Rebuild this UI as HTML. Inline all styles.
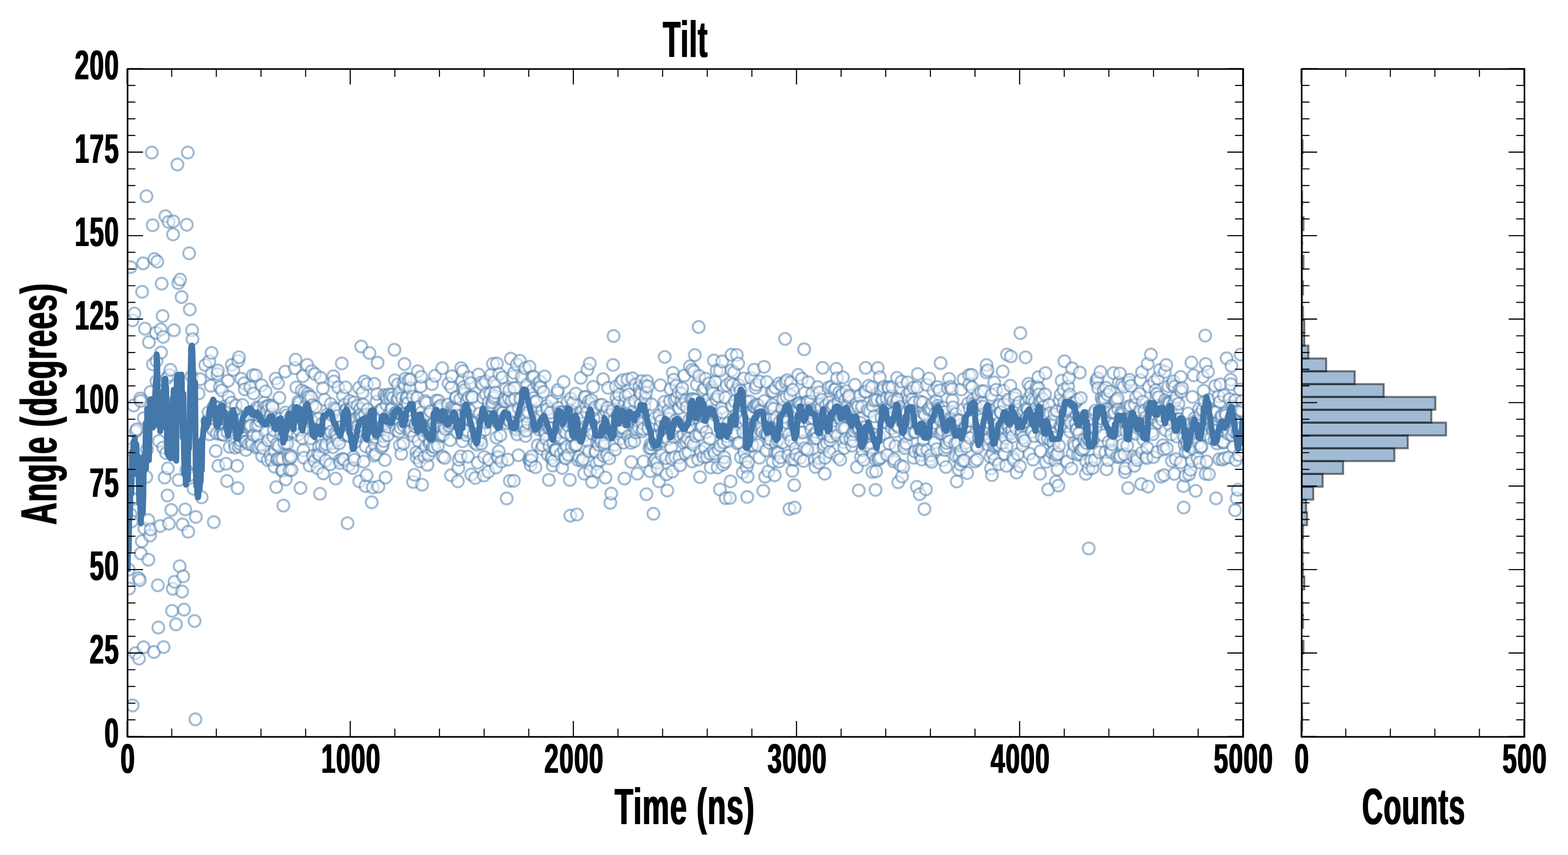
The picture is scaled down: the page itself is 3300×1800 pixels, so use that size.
<!DOCTYPE html>
<html lang="en"><head><meta charset="utf-8"><title>Tilt</title>
<style>
html,body{margin:0;padding:0;background:#fff}
body{width:3300px;height:1800px;overflow:hidden}
svg{display:block}
text{font-family:"Liberation Sans",sans-serif;font-weight:bold;fill:#000}
</style></head><body>
<svg width="3300" height="1800" viewBox="0 0 3300 1800">
<rect width="3300" height="1800" fill="#fff"/>
<defs><clipPath id="cm"><rect x="268.5" y="145.3" width="2348" height="1406"/></clipPath><clipPath id="ch"><rect x="2739.5" y="145.3" width="468.9" height="1406"/></clipPath><filter id="bt" x="-20%" y="-20%" width="140%" height="140%"><feMorphology operator="dilate" radius="1.0 0"/></filter><filter id="bl" x="-20%" y="-20%" width="140%" height="140%"><feMorphology operator="dilate" radius="1.7 0"/></filter></defs>
<g clip-path="url(#cm)" fill="#fff" fill-opacity="0.5" stroke="#4477AA" stroke-opacity="0.5" stroke-width="4.17">
<circle cx="270.7" cy="1199.1" r="12.5"/><circle cx="271.7" cy="1239" r="12.5"/><circle cx="272.8" cy="929.5" r="12.5"/><circle cx="274.9" cy="562.3" r="12.5"/><circle cx="274.9" cy="946.5" r="12.5"/><circle cx="274.9" cy="1082.7" r="12.5"/>
<circle cx="277.1" cy="1097.7" r="12.5"/><circle cx="278.8" cy="674.5" r="12.5"/><circle cx="279.2" cy="1050.7" r="12.5"/><circle cx="279.2" cy="1485.1" r="12.5"/><circle cx="281.4" cy="853.7" r="12.5"/><circle cx="283.1" cy="660" r="12.5"/>
<circle cx="285.2" cy="1375.2" r="12.5"/><circle cx="285.6" cy="908.1" r="12.5"/><circle cx="287.8" cy="903.8" r="12.5"/><circle cx="292" cy="1217.2" r="12.5"/><circle cx="292.5" cy="1386.5" r="12.5"/><circle cx="294.2" cy="1221.5" r="12.5"/>
<circle cx="295.2" cy="838.9" r="12.5"/><circle cx="295.7" cy="844.1" r="12.5"/><circle cx="296.3" cy="1165.1" r="12.5"/><circle cx="298.4" cy="1139.5" r="12.5"/><circle cx="299.1" cy="614.3" r="12.5"/><circle cx="301.2" cy="554.4" r="12.5"/>
<circle cx="302.1" cy="1362.6" r="12.5"/><circle cx="302.7" cy="880.4" r="12.5"/><circle cx="303.8" cy="1112.6" r="12.5"/><circle cx="305.1" cy="692" r="12.5"/><circle cx="308" cy="1004.2" r="12.5"/><circle cx="308.3" cy="413.2" r="12.5"/>
<circle cx="309.1" cy="946.5" r="12.5"/><circle cx="311.9" cy="1094.9" r="12.5"/><circle cx="312.3" cy="1178.4" r="12.5"/><circle cx="313.4" cy="720.4" r="12.5"/><circle cx="315.5" cy="1127.5" r="12.5"/><circle cx="316.6" cy="825.1" r="12.5"/>
<circle cx="317.2" cy="1114.7" r="12.5"/><circle cx="319.4" cy="321.2" r="12.5"/><circle cx="321.3" cy="474.1" r="12.5"/><circle cx="321.9" cy="767" r="12.5"/><circle cx="324.1" cy="1372.6" r="12.5"/><circle cx="324.9" cy="545.4" r="12.5"/>
<circle cx="328.3" cy="700.6" r="12.5"/><circle cx="329.4" cy="759.9" r="12.5"/><circle cx="329.4" cy="802.6" r="12.5"/><circle cx="331.1" cy="550.7" r="12.5"/><circle cx="332.2" cy="1232.2" r="12.5"/><circle cx="333.2" cy="1321.2" r="12.5"/>
<circle cx="334.7" cy="928.4" r="12.5"/><circle cx="337.3" cy="1107.3" r="12.5"/><circle cx="338.4" cy="693.7" r="12.5"/><circle cx="339" cy="742.2" r="12.5"/><circle cx="340.3" cy="597.2" r="12.5"/><circle cx="342.2" cy="665.3" r="12.5"/>
<circle cx="343.3" cy="942.3" r="12.5"/><circle cx="343.5" cy="709.3" r="12.5"/><circle cx="344.3" cy="1362.3" r="12.5"/><circle cx="346.5" cy="1005.3" r="12.5"/><circle cx="348.2" cy="455.1" r="12.5"/><circle cx="349.7" cy="954" r="12.5"/>
<circle cx="350.7" cy="796.2" r="12.5"/><circle cx="352.5" cy="1043.1" r="12.5"/><circle cx="353.3" cy="986" r="12.5"/><circle cx="354.8" cy="467.3" r="12.5"/><circle cx="355.4" cy="1102.3" r="12.5"/><circle cx="356.1" cy="789.8" r="12.5"/>
<circle cx="358.6" cy="778.7" r="12.5"/><circle cx="360.4" cy="1073.6" r="12.5"/><circle cx="362.1" cy="1286" r="12.5"/><circle cx="363.6" cy="1239.6" r="12.5"/><circle cx="364.2" cy="493.5" r="12.5"/><circle cx="364.8" cy="466.2" r="12.5"/>
<circle cx="366.1" cy="695.2" r="12.5"/><circle cx="367.4" cy="1224.9" r="12.5"/><circle cx="370.4" cy="1314.4" r="12.5"/><circle cx="373.4" cy="346.4" r="12.5"/><circle cx="375.3" cy="595.9" r="12.5"/><circle cx="375.9" cy="1010.6" r="12.5"/>
<circle cx="378.1" cy="1192" r="12.5"/><circle cx="379.1" cy="588.7" r="12.5"/><circle cx="382.1" cy="625.4" r="12.5"/><circle cx="383.2" cy="1245.4" r="12.5"/><circle cx="384.3" cy="1104.1" r="12.5"/><circle cx="385.6" cy="1213.4" r="12.5"/>
<circle cx="387.3" cy="1283.4" r="12.5"/><circle cx="389.8" cy="1072.5" r="12.5"/><circle cx="392.4" cy="989.3" r="12.5"/><circle cx="393.2" cy="473.2" r="12.5"/><circle cx="395.2" cy="321.2" r="12.5"/><circle cx="396.2" cy="1119.4" r="12.5"/>
<circle cx="398.1" cy="533.2" r="12.5"/><circle cx="398.8" cy="999.9" r="12.5"/><circle cx="399.4" cy="651.5" r="12.5"/><circle cx="403.1" cy="792" r="12.5"/><circle cx="404.3" cy="695.2" r="12.5"/><circle cx="405.2" cy="714" r="12.5"/>
<circle cx="407.3" cy="1028.8" r="12.5"/><circle cx="409.5" cy="1307.3" r="12.5"/><circle cx="411.2" cy="1514.4" r="12.5"/><circle cx="412.2" cy="1088.3" r="12.5"/><circle cx="418" cy="828.3" r="12.5"/><circle cx="421.2" cy="798.4" r="12.5"/>
<circle cx="424.4" cy="1046.9" r="12.5"/><circle cx="431.9" cy="768.5" r="12.5"/><circle cx="436.5" cy="886.4" r="12.5"/><circle cx="437.6" cy="887.6" r="12.5"/><circle cx="438.8" cy="868" r="12.5"/><circle cx="440.4" cy="760.6" r="12.5"/>
<circle cx="441.2" cy="914.4" r="12.5"/><circle cx="442.3" cy="897" r="12.5"/><circle cx="443.6" cy="812.2" r="12.5"/><circle cx="445.3" cy="742.8" r="12.5"/><circle cx="445.8" cy="785.6" r="12.5"/><circle cx="447" cy="871" r="12.5"/>
<circle cx="448.2" cy="904.8" r="12.5"/><circle cx="449.4" cy="856.4" r="12.5"/><circle cx="450" cy="1099.1" r="12.5"/><circle cx="451.7" cy="856.4" r="12.5"/><circle cx="452.9" cy="865.7" r="12.5"/><circle cx="454.1" cy="949.7" r="12.5"/>
<circle cx="455.3" cy="856.8" r="12.5"/><circle cx="456.4" cy="912.7" r="12.5"/><circle cx="457.5" cy="787.7" r="12.5"/><circle cx="458.6" cy="780.2" r="12.5"/><circle cx="459.6" cy="980.7" r="12.5"/><circle cx="461.1" cy="859" r="12.5"/>
<circle cx="462.8" cy="815.4" r="12.5"/><circle cx="463.5" cy="913.8" r="12.5"/><circle cx="464.7" cy="877.7" r="12.5"/><circle cx="465.8" cy="886.4" r="12.5"/><circle cx="467.1" cy="821.9" r="12.5"/><circle cx="468.2" cy="904.7" r="12.5"/>
<circle cx="469.4" cy="914.4" r="12.5"/><circle cx="470.5" cy="915.4" r="12.5"/><circle cx="471.7" cy="862.1" r="12.5"/><circle cx="472.9" cy="859.7" r="12.5"/><circle cx="474.1" cy="854.9" r="12.5"/><circle cx="475.7" cy="976.4" r="12.5"/>
<circle cx="476.4" cy="883.1" r="12.5"/><circle cx="477.8" cy="1012.7" r="12.5"/><circle cx="478.8" cy="909.7" r="12.5"/><circle cx="479.9" cy="801.6" r="12.5"/><circle cx="481" cy="835.7" r="12.5"/><circle cx="482.3" cy="899.4" r="12.5"/>
<circle cx="483.4" cy="940.8" r="12.5"/><circle cx="484.6" cy="891.3" r="12.5"/><circle cx="485.8" cy="860" r="12.5"/><circle cx="487" cy="847.7" r="12.5"/><circle cx="488" cy="768" r="12.5"/><circle cx="489.3" cy="892.6" r="12.5"/>
<circle cx="490.5" cy="890.7" r="12.5"/><circle cx="491.2" cy="778.7" r="12.5"/><circle cx="492.8" cy="873.1" r="12.5"/><circle cx="494" cy="934.6" r="12.5"/><circle cx="495.2" cy="942.4" r="12.5"/><circle cx="496.4" cy="853.6" r="12.5"/>
<circle cx="497.5" cy="870.6" r="12.5"/><circle cx="499.1" cy="980.7" r="12.5"/><circle cx="500.2" cy="1027.7" r="12.5"/><circle cx="501.3" cy="759.9" r="12.5"/><circle cx="502.2" cy="940" r="12.5"/><circle cx="503" cy="752" r="12.5"/>
<circle cx="504.6" cy="911.3" r="12.5"/><circle cx="505.8" cy="934.7" r="12.5"/><circle cx="506.9" cy="927.9" r="12.5"/><circle cx="507.7" cy="797.3" r="12.5"/><circle cx="509.3" cy="918.7" r="12.5"/><circle cx="510.5" cy="852.7" r="12.5"/>
<circle cx="511.6" cy="881.6" r="12.5"/><circle cx="512.8" cy="878.8" r="12.5"/><circle cx="514.1" cy="806.9" r="12.5"/><circle cx="515.2" cy="819.7" r="12.5"/><circle cx="516.3" cy="929.6" r="12.5"/><circle cx="517.5" cy="947.3" r="12.5"/>
<circle cx="518.7" cy="930.2" r="12.5"/><circle cx="519.9" cy="899" r="12.5"/><circle cx="521" cy="873.8" r="12.5"/><circle cx="522.2" cy="891.7" r="12.5"/><circle cx="523.4" cy="934.8" r="12.5"/><circle cx="524.6" cy="876.9" r="12.5"/>
<circle cx="525.7" cy="896.9" r="12.5"/><circle cx="526.9" cy="815.4" r="12.5"/><circle cx="528.1" cy="896.2" r="12.5"/><circle cx="529.3" cy="929.9" r="12.5"/><circle cx="530.4" cy="936.1" r="12.5"/><circle cx="532.2" cy="789.8" r="12.5"/>
<circle cx="533.3" cy="828.3" r="12.5"/><circle cx="534" cy="916.1" r="12.5"/><circle cx="535.1" cy="865.2" r="12.5"/><circle cx="536.3" cy="866.5" r="12.5"/><circle cx="538.1" cy="790.2" r="12.5"/><circle cx="538.7" cy="896.8" r="12.5"/>
<circle cx="539.8" cy="942.5" r="12.5"/><circle cx="541" cy="857.3" r="12.5"/><circle cx="542.2" cy="918" r="12.5"/><circle cx="543.4" cy="895.4" r="12.5"/><circle cx="544.5" cy="941.4" r="12.5"/><circle cx="545.7" cy="858.6" r="12.5"/>
<circle cx="546.9" cy="885.8" r="12.5"/><circle cx="548.1" cy="876.8" r="12.5"/><circle cx="549.2" cy="936.9" r="12.5"/><circle cx="550.4" cy="811.2" r="12.5"/><circle cx="551.7" cy="960.2" r="12.5"/><circle cx="552.8" cy="871.8" r="12.5"/>
<circle cx="553.9" cy="943.7" r="12.5"/><circle cx="555.1" cy="859.3" r="12.5"/><circle cx="556.3" cy="847.4" r="12.5"/><circle cx="557.4" cy="878.6" r="12.5"/><circle cx="558.9" cy="824" r="12.5"/><circle cx="559.8" cy="909.2" r="12.5"/>
<circle cx="561" cy="855.4" r="12.5"/><circle cx="562.1" cy="865.5" r="12.5"/><circle cx="563.3" cy="968.6" r="12.5"/><circle cx="564.5" cy="927.1" r="12.5"/><circle cx="565.7" cy="854" r="12.5"/><circle cx="566.8" cy="884.2" r="12.5"/>
<circle cx="568" cy="878.1" r="12.5"/><circle cx="569.2" cy="957.7" r="12.5"/><circle cx="570.4" cy="872.3" r="12.5"/><circle cx="571.1" cy="968" r="12.5"/><circle cx="572.7" cy="853.4" r="12.5"/><circle cx="573.9" cy="856.9" r="12.5"/>
<circle cx="575.1" cy="919.6" r="12.5"/><circle cx="576.2" cy="905.5" r="12.5"/><circle cx="577.9" cy="982.6" r="12.5"/><circle cx="578.6" cy="949.6" r="12.5"/><circle cx="580.2" cy="797" r="12.5"/><circle cx="581.4" cy="1025.5" r="12.5"/>
<circle cx="582.1" cy="935.5" r="12.5"/><circle cx="583.3" cy="967.6" r="12.5"/><circle cx="584.5" cy="965.6" r="12.5"/><circle cx="585.1" cy="806.7" r="12.5"/><circle cx="586.8" cy="938.7" r="12.5"/><circle cx="588" cy="837.4" r="12.5"/>
<circle cx="588.6" cy="967" r="12.5"/><circle cx="590.3" cy="880.9" r="12.5"/><circle cx="591.5" cy="914.8" r="12.5"/><circle cx="593.4" cy="991.3" r="12.5"/><circle cx="594.4" cy="966.1" r="12.5"/><circle cx="595" cy="990.3" r="12.5"/>
<circle cx="596.4" cy="1064.4" r="12.5"/><circle cx="597.4" cy="917.7" r="12.5"/><circle cx="598.6" cy="933.3" r="12.5"/><circle cx="600.2" cy="782.4" r="12.5"/><circle cx="600.9" cy="868.5" r="12.5"/><circle cx="601.6" cy="1009.4" r="12.5"/>
<circle cx="603.3" cy="874.6" r="12.5"/><circle cx="604.4" cy="933.7" r="12.5"/><circle cx="605.6" cy="914.2" r="12.5"/><circle cx="606.8" cy="958.8" r="12.5"/><circle cx="608" cy="966.7" r="12.5"/><circle cx="609.1" cy="989.7" r="12.5"/>
<circle cx="610.3" cy="882.3" r="12.5"/><circle cx="611.9" cy="958.9" r="12.5"/><circle cx="612.7" cy="962.6" r="12.5"/><circle cx="613.5" cy="989.4" r="12.5"/><circle cx="615" cy="909.3" r="12.5"/><circle cx="616.2" cy="908.4" r="12.5"/>
<circle cx="617.4" cy="874.7" r="12.5"/><circle cx="618.5" cy="895.4" r="12.5"/><circle cx="619.7" cy="864" r="12.5"/><circle cx="620.6" cy="775.2" r="12.5"/><circle cx="622.2" cy="757.2" r="12.5"/><circle cx="623.6" cy="815.5" r="12.5"/>
<circle cx="624.4" cy="877.1" r="12.5"/><circle cx="625.6" cy="858.3" r="12.5"/><circle cx="626.7" cy="915.5" r="12.5"/><circle cx="627.9" cy="845.4" r="12.5"/><circle cx="629.1" cy="904.7" r="12.5"/><circle cx="630.3" cy="848.5" r="12.5"/>
<circle cx="631.4" cy="874.2" r="12.5"/><circle cx="632.3" cy="1027.5" r="12.5"/><circle cx="633.8" cy="874.9" r="12.5"/><circle cx="635" cy="822" r="12.5"/><circle cx="636.1" cy="922.4" r="12.5"/><circle cx="637.6" cy="791.8" r="12.5"/>
<circle cx="638.5" cy="947.9" r="12.5"/><circle cx="639.7" cy="963.7" r="12.5"/><circle cx="640.8" cy="825.6" r="12.5"/><circle cx="642" cy="856.3" r="12.5"/><circle cx="643.2" cy="887.2" r="12.5"/><circle cx="644.4" cy="836.4" r="12.5"/>
<circle cx="645.5" cy="878.7" r="12.5"/><circle cx="646.5" cy="768.2" r="12.5"/><circle cx="647.9" cy="829.1" r="12.5"/><circle cx="649.1" cy="843" r="12.5"/><circle cx="650.2" cy="834.9" r="12.5"/><circle cx="651.7" cy="980.3" r="12.5"/>
<circle cx="652.6" cy="880.2" r="12.5"/><circle cx="653.8" cy="922.9" r="12.5"/><circle cx="654.9" cy="835.8" r="12.5"/><circle cx="656.1" cy="781.3" r="12.5"/><circle cx="657.3" cy="853.1" r="12.5"/><circle cx="658.5" cy="959.6" r="12.5"/>
<circle cx="659.6" cy="889.3" r="12.5"/><circle cx="660.8" cy="909.3" r="12.5"/><circle cx="662" cy="970.3" r="12.5"/><circle cx="662.8" cy="787.3" r="12.5"/><circle cx="664.3" cy="856.7" r="12.5"/><circle cx="665.5" cy="912.4" r="12.5"/>
<circle cx="666.7" cy="904.4" r="12.5"/><circle cx="668.3" cy="985.5" r="12.5"/><circle cx="669" cy="955.3" r="12.5"/><circle cx="670.2" cy="881.8" r="12.5"/><circle cx="671.4" cy="940" r="12.5"/><circle cx="672.6" cy="957.8" r="12.5"/>
<circle cx="673.5" cy="1039.5" r="12.5"/><circle cx="674.7" cy="795.4" r="12.5"/><circle cx="676.1" cy="921.4" r="12.5"/><circle cx="677.3" cy="938" r="12.5"/><circle cx="678.4" cy="891.9" r="12.5"/><circle cx="679.6" cy="817.5" r="12.5"/>
<circle cx="680.3" cy="996.6" r="12.5"/><circle cx="682" cy="907.7" r="12.5"/><circle cx="683.1" cy="841.5" r="12.5"/><circle cx="684.3" cy="941.9" r="12.5"/><circle cx="685.5" cy="969.9" r="12.5"/><circle cx="686.7" cy="935.4" r="12.5"/>
<circle cx="687.8" cy="906.3" r="12.5"/><circle cx="689" cy="873.2" r="12.5"/><circle cx="690.2" cy="889.3" r="12.5"/><circle cx="691.4" cy="914.3" r="12.5"/><circle cx="692.5" cy="892" r="12.5"/><circle cx="693.7" cy="891.9" r="12.5"/>
<circle cx="694.9" cy="977.7" r="12.5"/><circle cx="696" cy="850.5" r="12.5"/><circle cx="697.2" cy="909" r="12.5"/><circle cx="698.4" cy="873.6" r="12.5"/><circle cx="699.6" cy="933.1" r="12.5"/><circle cx="700.7" cy="941.5" r="12.5"/>
<circle cx="701.7" cy="792.1" r="12.5"/><circle cx="702.8" cy="803.2" r="12.5"/><circle cx="704.3" cy="859.4" r="12.5"/><circle cx="705.4" cy="912.5" r="12.5"/><circle cx="706.5" cy="1007.5" r="12.5"/><circle cx="707.8" cy="862" r="12.5"/>
<circle cx="709" cy="916.2" r="12.5"/><circle cx="710.1" cy="925.9" r="12.5"/><circle cx="711.3" cy="875.5" r="12.5"/><circle cx="712" cy="815.5" r="12.5"/><circle cx="713.7" cy="933.2" r="12.5"/><circle cx="714.8" cy="969" r="12.5"/>
<circle cx="715.9" cy="974.8" r="12.5"/><circle cx="717.2" cy="906" r="12.5"/><circle cx="718.4" cy="899" r="12.5"/><circle cx="719.4" cy="765.1" r="12.5"/><circle cx="720.7" cy="965.9" r="12.5"/><circle cx="721.9" cy="833.1" r="12.5"/>
<circle cx="723.1" cy="915" r="12.5"/><circle cx="724.2" cy="967.3" r="12.5"/><circle cx="725.4" cy="851.8" r="12.5"/><circle cx="726.6" cy="865.1" r="12.5"/><circle cx="727.5" cy="815.5" r="12.5"/><circle cx="728.9" cy="875.3" r="12.5"/>
<circle cx="730.1" cy="860.6" r="12.5"/><circle cx="731.4" cy="1101.5" r="12.5"/><circle cx="732.5" cy="917.4" r="12.5"/><circle cx="733.6" cy="916.6" r="12.5"/><circle cx="734.3" cy="979.7" r="12.5"/><circle cx="736" cy="844.2" r="12.5"/>
<circle cx="737.2" cy="860" r="12.5"/><circle cx="738.3" cy="863.4" r="12.5"/><circle cx="739.5" cy="898.5" r="12.5"/><circle cx="740.7" cy="858.4" r="12.5"/><circle cx="742.1" cy="985.5" r="12.5"/><circle cx="743" cy="909" r="12.5"/>
<circle cx="744.2" cy="962.2" r="12.5"/><circle cx="745.4" cy="847.4" r="12.5"/><circle cx="746" cy="968" r="12.5"/><circle cx="747.7" cy="930.2" r="12.5"/><circle cx="748.9" cy="919.7" r="12.5"/><circle cx="750.1" cy="880.9" r="12.5"/>
<circle cx="751.3" cy="908.4" r="12.5"/><circle cx="752.4" cy="854.2" r="12.5"/><circle cx="753.6" cy="896.7" r="12.5"/><circle cx="755.7" cy="816.4" r="12.5"/><circle cx="756.1" cy="1013.3" r="12.5"/><circle cx="757.1" cy="877.7" r="12.5"/>
<circle cx="758.3" cy="860.8" r="12.5"/><circle cx="759.5" cy="872.7" r="12.5"/><circle cx="760.2" cy="729.4" r="12.5"/><circle cx="761.8" cy="879.1" r="12.5"/><circle cx="763" cy="826.5" r="12.5"/><circle cx="764.2" cy="851.9" r="12.5"/>
<circle cx="765.4" cy="971.9" r="12.5"/><circle cx="767" cy="802.8" r="12.5"/><circle cx="767.7" cy="873.7" r="12.5"/><circle cx="769.3" cy="1023.4" r="12.5"/><circle cx="770" cy="939.7" r="12.5"/><circle cx="771.6" cy="1000.5" r="12.5"/>
<circle cx="772.2" cy="808.7" r="12.5"/><circle cx="773.6" cy="862.2" r="12.5"/><circle cx="774.7" cy="915.3" r="12.5"/><circle cx="775.9" cy="913.3" r="12.5"/><circle cx="777.5" cy="743.2" r="12.5"/><circle cx="778.3" cy="920" r="12.5"/>
<circle cx="779.4" cy="892" r="12.5"/><circle cx="780.6" cy="877.9" r="12.5"/><circle cx="782.3" cy="1057.4" r="12.5"/><circle cx="783" cy="948.7" r="12.5"/><circle cx="784.5" cy="1026.3" r="12.5"/><circle cx="785.3" cy="884.4" r="12.5"/>
<circle cx="787.8" cy="808.1" r="12.5"/><circle cx="787.8" cy="959.3" r="12.5"/><circle cx="788.8" cy="936.1" r="12.5"/><circle cx="790" cy="920.7" r="12.5"/><circle cx="791.2" cy="956" r="12.5"/><circle cx="792.4" cy="845.7" r="12.5"/>
<circle cx="793.5" cy="829.5" r="12.5"/><circle cx="794.6" cy="763.6" r="12.5"/><circle cx="795.9" cy="913" r="12.5"/><circle cx="796.5" cy="1024.4" r="12.5"/><circle cx="798.2" cy="906.6" r="12.5"/><circle cx="799.4" cy="879.4" r="12.5"/>
<circle cx="800.6" cy="878.5" r="12.5"/><circle cx="801.8" cy="862.4" r="12.5"/><circle cx="802.9" cy="941.9" r="12.5"/><circle cx="804.1" cy="862" r="12.5"/><circle cx="805.3" cy="938.2" r="12.5"/><circle cx="806.5" cy="917.7" r="12.5"/>
<circle cx="807.6" cy="928.5" r="12.5"/><circle cx="808.8" cy="831.4" r="12.5"/><circle cx="810" cy="968.5" r="12.5"/><circle cx="811.5" cy="1005.3" r="12.5"/><circle cx="812.3" cy="834" r="12.5"/><circle cx="813.5" cy="852.5" r="12.5"/>
<circle cx="814.7" cy="838.4" r="12.5"/><circle cx="815.9" cy="916.1" r="12.5"/><circle cx="817" cy="898.7" r="12.5"/><circle cx="818.2" cy="873.9" r="12.5"/><circle cx="819.4" cy="830.2" r="12.5"/><circle cx="820.6" cy="838.3" r="12.5"/>
<circle cx="821.7" cy="887.5" r="12.5"/><circle cx="822.9" cy="863.6" r="12.5"/><circle cx="824.1" cy="831.2" r="12.5"/><circle cx="825.3" cy="859.2" r="12.5"/><circle cx="826.4" cy="882.5" r="12.5"/><circle cx="827.6" cy="837.5" r="12.5"/>
<circle cx="828.8" cy="890.9" r="12.5"/><circle cx="830.1" cy="736.4" r="12.5"/><circle cx="831.1" cy="800.6" r="12.5"/><circle cx="832.3" cy="869.4" r="12.5"/><circle cx="833.5" cy="905.8" r="12.5"/><circle cx="834.7" cy="869.1" r="12.5"/>
<circle cx="835.8" cy="841.5" r="12.5"/><circle cx="837.3" cy="809.2" r="12.5"/><circle cx="838.2" cy="839.3" r="12.5"/><circle cx="839.3" cy="909.4" r="12.5"/><circle cx="840.5" cy="826.9" r="12.5"/><circle cx="841.7" cy="937.7" r="12.5"/>
<circle cx="842.9" cy="900.3" r="12.5"/><circle cx="844.5" cy="955.4" r="12.5"/><circle cx="845.2" cy="871.9" r="12.5"/><circle cx="846.4" cy="838" r="12.5"/><circle cx="849" cy="807.7" r="12.5"/><circle cx="849" cy="934" r="12.5"/>
<circle cx="849.9" cy="896.3" r="12.5"/><circle cx="851.3" cy="766.3" r="12.5"/><circle cx="852.3" cy="811.7" r="12.5"/><circle cx="853.4" cy="796.9" r="12.5"/><circle cx="854.6" cy="847.3" r="12.5"/><circle cx="855.8" cy="836.9" r="12.5"/>
<circle cx="857" cy="837" r="12.5"/><circle cx="858.1" cy="849.1" r="12.5"/><circle cx="859.3" cy="897.1" r="12.5"/><circle cx="860.5" cy="799" r="12.5"/><circle cx="861.7" cy="907.8" r="12.5"/><circle cx="862.8" cy="817.3" r="12.5"/>
<circle cx="864.5" cy="798.9" r="12.5"/><circle cx="865.2" cy="906.4" r="12.5"/><circle cx="866.4" cy="872.5" r="12.5"/><circle cx="867.5" cy="886.9" r="12.5"/><circle cx="868.7" cy="834.9" r="12.5"/><circle cx="869.4" cy="1014.7" r="12.5"/>
<circle cx="871.1" cy="917.9" r="12.5"/><circle cx="872.3" cy="999.5" r="12.5"/><circle cx="873.4" cy="897.8" r="12.5"/><circle cx="874.6" cy="891.8" r="12.5"/><circle cx="876.2" cy="952.5" r="12.5"/><circle cx="876.9" cy="963.3" r="12.5"/>
<circle cx="878.1" cy="837.4" r="12.5"/><circle cx="879.3" cy="781.5" r="12.5"/><circle cx="880.5" cy="927.9" r="12.5"/><circle cx="881.6" cy="856.8" r="12.5"/><circle cx="882.8" cy="956.4" r="12.5"/><circle cx="883.6" cy="971.3" r="12.5"/>
<circle cx="885.5" cy="813.5" r="12.5"/><circle cx="886.3" cy="793.3" r="12.5"/><circle cx="887.5" cy="868.2" r="12.5"/><circle cx="888.4" cy="1020.5" r="12.5"/><circle cx="889.9" cy="882.4" r="12.5"/><circle cx="891" cy="905.2" r="12.5"/>
<circle cx="892.2" cy="916.5" r="12.5"/><circle cx="893.4" cy="962.2" r="12.5"/><circle cx="894.6" cy="844" r="12.5"/><circle cx="895.7" cy="940.8" r="12.5"/><circle cx="896.9" cy="848.1" r="12.5"/><circle cx="898.1" cy="903.2" r="12.5"/>
<circle cx="899.5" cy="978.7" r="12.5"/><circle cx="900.4" cy="909.6" r="12.5"/><circle cx="901.6" cy="958.1" r="12.5"/><circle cx="902.8" cy="872.4" r="12.5"/><circle cx="904" cy="934.1" r="12.5"/><circle cx="905.1" cy="929.8" r="12.5"/>
<circle cx="906.3" cy="866.3" r="12.5"/><circle cx="907.5" cy="913.6" r="12.5"/><circle cx="909.2" cy="808.7" r="12.5"/><circle cx="909.8" cy="947.9" r="12.5"/><circle cx="911" cy="939.7" r="12.5"/><circle cx="912.2" cy="892.4" r="12.5"/>
<circle cx="913.3" cy="891.4" r="12.5"/><circle cx="914.5" cy="941.8" r="12.5"/><circle cx="915.4" cy="791.2" r="12.5"/><circle cx="916.9" cy="897.2" r="12.5"/><circle cx="918" cy="843.7" r="12.5"/><circle cx="919.2" cy="875.7" r="12.5"/>
<circle cx="920.4" cy="877.6" r="12.5"/><circle cx="921.6" cy="938.5" r="12.5"/><circle cx="922.7" cy="843.6" r="12.5"/><circle cx="923.9" cy="857.4" r="12.5"/><circle cx="925.1" cy="861.6" r="12.5"/><circle cx="926.3" cy="877.9" r="12.5"/>
<circle cx="927.4" cy="853.8" r="12.5"/><circle cx="928.6" cy="918.1" r="12.5"/><circle cx="929.8" cy="916.2" r="12.5"/><circle cx="930.6" cy="775" r="12.5"/><circle cx="931.6" cy="961.2" r="12.5"/><circle cx="933.3" cy="915.5" r="12.5"/>
<circle cx="934.5" cy="897.7" r="12.5"/><circle cx="935.7" cy="964.2" r="12.5"/><circle cx="936.8" cy="902.9" r="12.5"/><circle cx="938" cy="880.7" r="12.5"/><circle cx="939.2" cy="877.5" r="12.5"/><circle cx="940.4" cy="871.2" r="12.5"/>
<circle cx="941.5" cy="879.8" r="12.5"/><circle cx="942.7" cy="851.9" r="12.5"/><circle cx="944.2" cy="807.7" r="12.5"/><circle cx="945.1" cy="896.3" r="12.5"/><circle cx="946.2" cy="889.9" r="12.5"/><circle cx="947.4" cy="926.6" r="12.5"/>
<circle cx="949.1" cy="1000.5" r="12.5"/><circle cx="950" cy="815.5" r="12.5"/><circle cx="951" cy="792.1" r="12.5"/><circle cx="952.1" cy="856.6" r="12.5"/><circle cx="953.3" cy="884.2" r="12.5"/><circle cx="954.5" cy="871.1" r="12.5"/>
<circle cx="955.6" cy="858.2" r="12.5"/><circle cx="956.8" cy="872.3" r="12.5"/><circle cx="958" cy="861.6" r="12.5"/><circle cx="959.2" cy="838" r="12.5"/><circle cx="960.3" cy="835.9" r="12.5"/><circle cx="961.5" cy="863" r="12.5"/>
<circle cx="962.7" cy="911" r="12.5"/><circle cx="963.6" cy="1013.3" r="12.5"/><circle cx="964.6" cy="985.5" r="12.5"/><circle cx="965.6" cy="968" r="12.5"/><circle cx="967.4" cy="875.6" r="12.5"/><circle cx="968.6" cy="840.3" r="12.5"/>
<circle cx="969.7" cy="960.8" r="12.5"/><circle cx="970.4" cy="775" r="12.5"/><circle cx="972.4" cy="801.9" r="12.5"/><circle cx="973.3" cy="929" r="12.5"/><circle cx="974.3" cy="781.5" r="12.5"/><circle cx="975.6" cy="815.1" r="12.5"/>
<circle cx="976.8" cy="829.8" r="12.5"/><circle cx="978" cy="821.1" r="12.5"/><circle cx="979.1" cy="909.8" r="12.5"/><circle cx="980.3" cy="866.9" r="12.5"/><circle cx="981.5" cy="916.2" r="12.5"/><circle cx="982.6" cy="843.1" r="12.5"/>
<circle cx="983.8" cy="906.1" r="12.5"/><circle cx="985" cy="961.4" r="12.5"/><circle cx="986.2" cy="836.5" r="12.5"/><circle cx="987.3" cy="795" r="12.5"/><circle cx="988.5" cy="863.9" r="12.5"/><circle cx="989.7" cy="884.4" r="12.5"/>
<circle cx="990.8" cy="806.7" r="12.5"/><circle cx="991.8" cy="999.1" r="12.5"/><circle cx="993.2" cy="835" r="12.5"/><circle cx="994.4" cy="836.3" r="12.5"/><circle cx="995.6" cy="889.3" r="12.5"/><circle cx="996.7" cy="915.5" r="12.5"/>
<circle cx="997.9" cy="889" r="12.5"/><circle cx="999.1" cy="932" r="12.5"/><circle cx="1000.2" cy="1006.3" r="12.5"/><circle cx="1001.4" cy="903.6" r="12.5"/><circle cx="1002.6" cy="890.1" r="12.5"/><circle cx="1003.8" cy="936.1" r="12.5"/>
<circle cx="1005.4" cy="973.8" r="12.5"/><circle cx="1006.1" cy="923.9" r="12.5"/><circle cx="1007" cy="788.6" r="12.5"/><circle cx="1008.5" cy="871" r="12.5"/><circle cx="1009.7" cy="912" r="12.5"/><circle cx="1010.8" cy="926.4" r="12.5"/>
<circle cx="1012.2" cy="805.7" r="12.5"/><circle cx="1013.2" cy="934" r="12.5"/><circle cx="1014.4" cy="882.6" r="12.5"/><circle cx="1015.5" cy="809.9" r="12.5"/><circle cx="1016.7" cy="837.3" r="12.5"/><circle cx="1018.4" cy="1001" r="12.5"/>
<circle cx="1019" cy="962.2" r="12.5"/><circle cx="1020.2" cy="905.2" r="12.5"/><circle cx="1021.9" cy="802.8" r="12.5"/><circle cx="1022.6" cy="830.2" r="12.5"/><circle cx="1023.8" cy="876.5" r="12.5"/><circle cx="1024.9" cy="889.3" r="12.5"/>
<circle cx="1026.1" cy="859.3" r="12.5"/><circle cx="1027.8" cy="993.3" r="12.5"/><circle cx="1028.5" cy="846.6" r="12.5"/><circle cx="1029.6" cy="967.7" r="12.5"/><circle cx="1030.8" cy="878.2" r="12.5"/><circle cx="1032" cy="828.5" r="12.5"/>
<circle cx="1033.6" cy="789.2" r="12.5"/><circle cx="1034.3" cy="878.5" r="12.5"/><circle cx="1035.5" cy="853.4" r="12.5"/><circle cx="1036.7" cy="847.3" r="12.5"/><circle cx="1037.5" cy="765.9" r="12.5"/><circle cx="1039" cy="838" r="12.5"/>
<circle cx="1040.2" cy="804.3" r="12.5"/><circle cx="1041.4" cy="833.8" r="12.5"/><circle cx="1042.6" cy="826.4" r="12.5"/><circle cx="1043.9" cy="984.1" r="12.5"/><circle cx="1044.9" cy="921.5" r="12.5"/><circle cx="1045.8" cy="765.3" r="12.5"/>
<circle cx="1047.3" cy="961.2" r="12.5"/><circle cx="1048.4" cy="963.4" r="12.5"/><circle cx="1049.6" cy="950.1" r="12.5"/><circle cx="1050.7" cy="787.7" r="12.5"/><circle cx="1051.9" cy="862.7" r="12.5"/><circle cx="1053.1" cy="916.4" r="12.5"/>
<circle cx="1054.3" cy="863.5" r="12.5"/><circle cx="1055.5" cy="971.5" r="12.5"/><circle cx="1056.6" cy="870.4" r="12.5"/><circle cx="1057.5" cy="794.5" r="12.5"/><circle cx="1059" cy="867.8" r="12.5"/><circle cx="1060.2" cy="844.1" r="12.5"/>
<circle cx="1061.3" cy="882.3" r="12.5"/><circle cx="1062.5" cy="837.7" r="12.5"/><circle cx="1063.7" cy="845.1" r="12.5"/><circle cx="1064.9" cy="818.7" r="12.5"/><circle cx="1066.4" cy="1049.4" r="12.5"/><circle cx="1067.2" cy="891.1" r="12.5"/>
<circle cx="1068.8" cy="967.6" r="12.5"/><circle cx="1069.6" cy="883.4" r="12.5"/><circle cx="1070.7" cy="838.1" r="12.5"/><circle cx="1071.9" cy="821.7" r="12.5"/><circle cx="1073" cy="1012.3" r="12.5"/><circle cx="1074.3" cy="889" r="12.5"/>
<circle cx="1075" cy="755.2" r="12.5"/><circle cx="1076.6" cy="844.2" r="12.5"/><circle cx="1077.8" cy="865.8" r="12.5"/><circle cx="1079" cy="793.4" r="12.5"/><circle cx="1081.4" cy="1012.3" r="12.5"/><circle cx="1081.8" cy="784.8" r="12.5"/>
<circle cx="1082.5" cy="816.9" r="12.5"/><circle cx="1083.7" cy="839.7" r="12.5"/><circle cx="1084.8" cy="904.9" r="12.5"/><circle cx="1086" cy="901.4" r="12.5"/><circle cx="1087.6" cy="767.3" r="12.5"/><circle cx="1088.4" cy="914.4" r="12.5"/>
<circle cx="1089.5" cy="896.2" r="12.5"/><circle cx="1091.1" cy="958.3" r="12.5"/><circle cx="1091.9" cy="859.1" r="12.5"/><circle cx="1093.1" cy="891.8" r="12.5"/><circle cx="1094" cy="759.5" r="12.5"/><circle cx="1095.4" cy="839.8" r="12.5"/>
<circle cx="1096.6" cy="889.7" r="12.5"/><circle cx="1098.3" cy="793.5" r="12.5"/><circle cx="1098.9" cy="886.1" r="12.5"/><circle cx="1100.1" cy="897.3" r="12.5"/><circle cx="1101.3" cy="899" r="12.5"/><circle cx="1102.5" cy="886.9" r="12.5"/>
<circle cx="1103.6" cy="895.4" r="12.5"/><circle cx="1105.1" cy="775.1" r="12.5"/><circle cx="1106" cy="918" r="12.5"/><circle cx="1107.2" cy="906.6" r="12.5"/><circle cx="1108.3" cy="876" r="12.5"/><circle cx="1109.5" cy="809.5" r="12.5"/>
<circle cx="1110.7" cy="890.3" r="12.5"/><circle cx="1111.9" cy="868.5" r="12.5"/><circle cx="1113.8" cy="967.6" r="12.5"/><circle cx="1114.4" cy="772.1" r="12.5"/><circle cx="1115.4" cy="969.7" r="12.5"/><circle cx="1116.8" cy="979.3" r="12.5"/>
<circle cx="1117.7" cy="969" r="12.5"/><circle cx="1118.7" cy="960.8" r="12.5"/><circle cx="1120.1" cy="793.7" r="12.5"/><circle cx="1121.3" cy="820.6" r="12.5"/><circle cx="1122.4" cy="837.9" r="12.5"/><circle cx="1123.6" cy="793.1" r="12.5"/>
<circle cx="1124.8" cy="847.2" r="12.5"/><circle cx="1125.9" cy="897.9" r="12.5"/><circle cx="1126.9" cy="983.7" r="12.5"/><circle cx="1128.3" cy="865.4" r="12.5"/><circle cx="1129.5" cy="844.9" r="12.5"/><circle cx="1130.6" cy="809.2" r="12.5"/>
<circle cx="1131.8" cy="937.3" r="12.5"/><circle cx="1133" cy="877" r="12.5"/><circle cx="1134.2" cy="904.1" r="12.5"/><circle cx="1135.3" cy="814.9" r="12.5"/><circle cx="1136.5" cy="803.4" r="12.5"/><circle cx="1137.7" cy="815.5" r="12.5"/>
<circle cx="1138.9" cy="877" r="12.5"/><circle cx="1140" cy="944.8" r="12.5"/><circle cx="1141.2" cy="864.5" r="12.5"/><circle cx="1142.4" cy="937.8" r="12.5"/><circle cx="1143.6" cy="825" r="12.5"/><circle cx="1144.7" cy="906.2" r="12.5"/>
<circle cx="1146.3" cy="792.5" r="12.5"/><circle cx="1147.1" cy="908.4" r="12.5"/><circle cx="1148.3" cy="914.2" r="12.5"/><circle cx="1149.4" cy="924.3" r="12.5"/><circle cx="1150.6" cy="854.5" r="12.5"/><circle cx="1151.8" cy="861.4" r="12.5"/>
<circle cx="1153" cy="957.5" r="12.5"/><circle cx="1154.1" cy="900.7" r="12.5"/><circle cx="1155.2" cy="1010.4" r="12.5"/><circle cx="1156.5" cy="938.7" r="12.5"/><circle cx="1157.7" cy="901.1" r="12.5"/><circle cx="1158.8" cy="868.6" r="12.5"/>
<circle cx="1160.5" cy="964.7" r="12.5"/><circle cx="1161.2" cy="844.7" r="12.5"/><circle cx="1162.4" cy="962.2" r="12.5"/><circle cx="1163.4" cy="980.2" r="12.5"/><circle cx="1164.7" cy="932.5" r="12.5"/><circle cx="1165.9" cy="969.7" r="12.5"/>
<circle cx="1167.1" cy="918.7" r="12.5"/><circle cx="1168.2" cy="946.3" r="12.5"/><circle cx="1169.4" cy="948.3" r="12.5"/><circle cx="1170.6" cy="947.3" r="12.5"/><circle cx="1171.8" cy="915.4" r="12.5"/><circle cx="1172.9" cy="826.9" r="12.5"/>
<circle cx="1174.1" cy="821.1" r="12.5"/><circle cx="1175.3" cy="858.6" r="12.5"/><circle cx="1176.5" cy="908.9" r="12.5"/><circle cx="1177.6" cy="873.9" r="12.5"/><circle cx="1178.8" cy="868.1" r="12.5"/><circle cx="1179.9" cy="956.3" r="12.5"/>
<circle cx="1181.2" cy="921.6" r="12.5"/><circle cx="1182.3" cy="868" r="12.5"/><circle cx="1183.2" cy="985.1" r="12.5"/><circle cx="1184.7" cy="897" r="12.5"/><circle cx="1186.3" cy="804.2" r="12.5"/><circle cx="1187" cy="947" r="12.5"/>
<circle cx="1188.2" cy="908.7" r="12.5"/><circle cx="1189.4" cy="963.3" r="12.5"/><circle cx="1190.6" cy="965.5" r="12.5"/><circle cx="1191.7" cy="911.4" r="12.5"/><circle cx="1192.9" cy="940.1" r="12.5"/><circle cx="1194.1" cy="846.8" r="12.5"/>
<circle cx="1195.2" cy="895.3" r="12.5"/><circle cx="1196.4" cy="957.7" r="12.5"/><circle cx="1197.6" cy="863.8" r="12.5"/><circle cx="1199.3" cy="1010.4" r="12.5"/><circle cx="1200.3" cy="1085.6" r="12.5"/><circle cx="1201.1" cy="839.2" r="12.5"/>
<circle cx="1202.3" cy="916.4" r="12.5"/><circle cx="1203.5" cy="940.9" r="12.5"/><circle cx="1204.6" cy="867.2" r="12.5"/><circle cx="1205.8" cy="848.3" r="12.5"/><circle cx="1207" cy="898.5" r="12.5"/><circle cx="1208.2" cy="886.9" r="12.5"/>
<circle cx="1209.3" cy="877.2" r="12.5"/><circle cx="1210.5" cy="938.1" r="12.5"/><circle cx="1211.7" cy="828.9" r="12.5"/><circle cx="1212.9" cy="936.6" r="12.5"/><circle cx="1214.3" cy="1083.2" r="12.5"/><circle cx="1215.2" cy="884.3" r="12.5"/>
<circle cx="1216.8" cy="968.6" r="12.5"/><circle cx="1217.6" cy="916.4" r="12.5"/><circle cx="1218.7" cy="962.2" r="12.5"/><circle cx="1219.9" cy="891.7" r="12.5"/><circle cx="1221.1" cy="881.1" r="12.5"/><circle cx="1222.3" cy="795.5" r="12.5"/>
<circle cx="1223.4" cy="868" r="12.5"/><circle cx="1224.6" cy="970.1" r="12.5"/><circle cx="1225.8" cy="880" r="12.5"/><circle cx="1227.5" cy="966.6" r="12.5"/><circle cx="1228.1" cy="917.3" r="12.5"/><circle cx="1229.5" cy="997.1" r="12.5"/>
<circle cx="1230.5" cy="836.2" r="12.5"/><circle cx="1231.7" cy="835.6" r="12.5"/><circle cx="1232.8" cy="897.5" r="12.5"/><circle cx="1234" cy="855.5" r="12.5"/><circle cx="1235.2" cy="867.9" r="12.5"/><circle cx="1236.3" cy="778.4" r="12.5"/>
<circle cx="1237.5" cy="928.4" r="12.5"/><circle cx="1238.7" cy="845.3" r="12.5"/><circle cx="1239.9" cy="949.9" r="12.5"/><circle cx="1241.3" cy="765.3" r="12.5"/><circle cx="1242.1" cy="991.9" r="12.5"/><circle cx="1243.4" cy="850.3" r="12.5"/>
<circle cx="1244.6" cy="842.3" r="12.5"/><circle cx="1246.2" cy="1014.6" r="12.5"/><circle cx="1246.9" cy="913.1" r="12.5"/><circle cx="1248.3" cy="814.3" r="12.5"/><circle cx="1249.3" cy="880.5" r="12.5"/><circle cx="1250.5" cy="862.6" r="12.5"/>
<circle cx="1251.6" cy="857.6" r="12.5"/><circle cx="1252.8" cy="951.5" r="12.5"/><circle cx="1254" cy="950.8" r="12.5"/><circle cx="1255.1" cy="976.4" r="12.5"/><circle cx="1256.3" cy="929.6" r="12.5"/><circle cx="1257.6" cy="992.9" r="12.5"/>
<circle cx="1258.7" cy="921.9" r="12.5"/><circle cx="1259.9" cy="936.3" r="12.5"/><circle cx="1261" cy="920.2" r="12.5"/><circle cx="1262.2" cy="969.7" r="12.5"/><circle cx="1263.4" cy="853" r="12.5"/><circle cx="1264.6" cy="901.4" r="12.5"/>
<circle cx="1265.7" cy="930.1" r="12.5"/><circle cx="1266.9" cy="852.1" r="12.5"/><circle cx="1268.1" cy="898.6" r="12.5"/><circle cx="1269.3" cy="798.4" r="12.5"/><circle cx="1270.3" cy="959.8" r="12.5"/><circle cx="1271.6" cy="938.9" r="12.5"/>
<circle cx="1272.8" cy="932.3" r="12.5"/><circle cx="1274.2" cy="1005.5" r="12.5"/><circle cx="1275.1" cy="909.9" r="12.5"/><circle cx="1276.3" cy="866.2" r="12.5"/><circle cx="1277.5" cy="957.8" r="12.5"/><circle cx="1278.6" cy="858.4" r="12.5"/>
<circle cx="1279.8" cy="816.5" r="12.5"/><circle cx="1281" cy="904.2" r="12.5"/><circle cx="1282.2" cy="965" r="12.5"/><circle cx="1283.3" cy="873.8" r="12.5"/><circle cx="1284.5" cy="1058.6" r="12.5"/><circle cx="1285.7" cy="913.9" r="12.5"/>
<circle cx="1286.4" cy="1039.1" r="12.5"/><circle cx="1288" cy="916.5" r="12.5"/><circle cx="1289.2" cy="864.1" r="12.5"/><circle cx="1290.3" cy="768.3" r="12.5"/><circle cx="1291.3" cy="707.4" r="12.5"/><circle cx="1292.7" cy="885.2" r="12.5"/>
<circle cx="1293.9" cy="936.5" r="12.5"/><circle cx="1294.6" cy="946.6" r="12.5"/><circle cx="1296.3" cy="813.8" r="12.5"/><circle cx="1297.4" cy="837.6" r="12.5"/><circle cx="1298.6" cy="907" r="12.5"/><circle cx="1299.8" cy="873.8" r="12.5"/>
<circle cx="1301" cy="847.8" r="12.5"/><circle cx="1302.1" cy="903.9" r="12.5"/><circle cx="1303.3" cy="831.2" r="12.5"/><circle cx="1304.5" cy="923.8" r="12.5"/><circle cx="1306.2" cy="805.2" r="12.5"/><circle cx="1306.8" cy="879.6" r="12.5"/>
<circle cx="1308" cy="908.2" r="12.5"/><circle cx="1309.2" cy="902.3" r="12.5"/><circle cx="1310.1" cy="800.3" r="12.5"/><circle cx="1311.5" cy="900.2" r="12.5"/><circle cx="1312.7" cy="931.8" r="12.5"/><circle cx="1314.2" cy="1007.4" r="12.5"/>
<circle cx="1315.1" cy="847.5" r="12.5"/><circle cx="1316.2" cy="834.3" r="12.5"/><circle cx="1317.4" cy="886.4" r="12.5"/><circle cx="1318.6" cy="871.7" r="12.5"/><circle cx="1319.8" cy="861.4" r="12.5"/><circle cx="1320.9" cy="798.7" r="12.5"/>
<circle cx="1322.1" cy="918.3" r="12.5"/><circle cx="1323.3" cy="830.4" r="12.5"/><circle cx="1324.5" cy="854.2" r="12.5"/><circle cx="1325.6" cy="848.9" r="12.5"/><circle cx="1326.8" cy="926.8" r="12.5"/><circle cx="1328" cy="932.3" r="12.5"/>
<circle cx="1328.6" cy="972.5" r="12.5"/><circle cx="1330.9" cy="796.4" r="12.5"/><circle cx="1331.5" cy="867.1" r="12.5"/><circle cx="1332.7" cy="887.6" r="12.5"/><circle cx="1333.9" cy="880.8" r="12.5"/><circle cx="1335" cy="928.8" r="12.5"/>
<circle cx="1336.2" cy="844.2" r="12.5"/><circle cx="1337.4" cy="809.5" r="12.5"/><circle cx="1338.5" cy="910.2" r="12.5"/><circle cx="1339.7" cy="904" r="12.5"/><circle cx="1341.2" cy="997.1" r="12.5"/><circle cx="1342.1" cy="883.6" r="12.5"/>
<circle cx="1343.2" cy="886.7" r="12.5"/><circle cx="1344.4" cy="900.7" r="12.5"/><circle cx="1345.6" cy="814.8" r="12.5"/><circle cx="1346.8" cy="825.7" r="12.5"/><circle cx="1347.9" cy="851.5" r="12.5"/><circle cx="1349.1" cy="829.4" r="12.5"/>
<circle cx="1349.9" cy="802.3" r="12.5"/><circle cx="1351.5" cy="908.3" r="12.5"/><circle cx="1352.6" cy="891.5" r="12.5"/><circle cx="1353.8" cy="903.2" r="12.5"/><circle cx="1354.4" cy="971.5" r="12.5"/><circle cx="1356.2" cy="855" r="12.5"/>
<circle cx="1357.3" cy="811.9" r="12.5"/><circle cx="1358.5" cy="839.5" r="12.5"/><circle cx="1359.7" cy="826.8" r="12.5"/><circle cx="1360.4" cy="1040.5" r="12.5"/><circle cx="1361.6" cy="802.3" r="12.5"/><circle cx="1363.2" cy="813.4" r="12.5"/>
<circle cx="1364.4" cy="901.7" r="12.5"/><circle cx="1365.6" cy="887" r="12.5"/><circle cx="1366.7" cy="944.1" r="12.5"/><circle cx="1368.4" cy="991.9" r="12.5"/><circle cx="1369.1" cy="935.1" r="12.5"/><circle cx="1370.3" cy="943.3" r="12.5"/>
<circle cx="1371.4" cy="851.3" r="12.5"/><circle cx="1372.6" cy="896.9" r="12.5"/><circle cx="1373.8" cy="935.7" r="12.5"/><circle cx="1375.2" cy="1081.7" r="12.5"/><circle cx="1376.1" cy="971.7" r="12.5"/><circle cx="1377.3" cy="892" r="12.5"/>
<circle cx="1378.5" cy="880.2" r="12.5"/><circle cx="1379.7" cy="967.4" r="12.5"/><circle cx="1380.8" cy="934.2" r="12.5"/><circle cx="1382" cy="935.2" r="12.5"/><circle cx="1383" cy="974.4" r="12.5"/><circle cx="1384" cy="986.1" r="12.5"/>
<circle cx="1385.5" cy="917.3" r="12.5"/><circle cx="1386.9" cy="1013.3" r="12.5"/><circle cx="1387.9" cy="874.4" r="12.5"/><circle cx="1389.1" cy="898.5" r="12.5"/><circle cx="1389.8" cy="811" r="12.5"/><circle cx="1391.4" cy="886.1" r="12.5"/>
<circle cx="1392.6" cy="958.4" r="12.5"/><circle cx="1393.8" cy="912.8" r="12.5"/><circle cx="1394.9" cy="928.6" r="12.5"/><circle cx="1396.1" cy="919.2" r="12.5"/><circle cx="1397.3" cy="857" r="12.5"/><circle cx="1398.5" cy="845.8" r="12.5"/>
<circle cx="1399.1" cy="751.5" r="12.5"/><circle cx="1401.4" cy="964.7" r="12.5"/><circle cx="1402.4" cy="998.7" r="12.5"/><circle cx="1403.2" cy="899.4" r="12.5"/><circle cx="1404.4" cy="1032.7" r="12.5"/><circle cx="1405.5" cy="924.4" r="12.5"/>
<circle cx="1406.7" cy="864.2" r="12.5"/><circle cx="1407.8" cy="882.4" r="12.5"/><circle cx="1409" cy="872" r="12.5"/><circle cx="1410.2" cy="844" r="12.5"/><circle cx="1411.4" cy="818.9" r="12.5"/><circle cx="1412.5" cy="941.5" r="12.5"/>
<circle cx="1413.7" cy="965.1" r="12.5"/><circle cx="1415" cy="992.9" r="12.5"/><circle cx="1416" cy="784.8" r="12.5"/><circle cx="1417.2" cy="919.9" r="12.5"/><circle cx="1418" cy="799.3" r="12.5"/><circle cx="1419.6" cy="840.8" r="12.5"/>
<circle cx="1420.9" cy="961.8" r="12.5"/><circle cx="1421.9" cy="885.5" r="12.5"/><circle cx="1423.1" cy="812.1" r="12.5"/><circle cx="1424.3" cy="837.4" r="12.5"/><circle cx="1425.5" cy="895.4" r="12.5"/><circle cx="1426.6" cy="907" r="12.5"/>
<circle cx="1427.8" cy="826.7" r="12.5"/><circle cx="1429" cy="858.9" r="12.5"/><circle cx="1430.2" cy="962.9" r="12.5"/><circle cx="1431.2" cy="979.7" r="12.5"/><circle cx="1432.5" cy="920.2" r="12.5"/><circle cx="1433.7" cy="844.9" r="12.5"/>
<circle cx="1434.9" cy="828.5" r="12.5"/><circle cx="1436" cy="817.3" r="12.5"/><circle cx="1437.2" cy="850.8" r="12.5"/><circle cx="1438.4" cy="916.6" r="12.5"/><circle cx="1439.6" cy="933.3" r="12.5"/><circle cx="1440.3" cy="790.6" r="12.5"/>
<circle cx="1442.3" cy="955" r="12.5"/><circle cx="1443.1" cy="843" r="12.5"/><circle cx="1444.3" cy="930.3" r="12.5"/><circle cx="1445.4" cy="857.1" r="12.5"/><circle cx="1446.6" cy="905.7" r="12.5"/><circle cx="1447.8" cy="923.3" r="12.5"/>
<circle cx="1449" cy="952.7" r="12.5"/><circle cx="1450.1" cy="897.9" r="12.5"/><circle cx="1451.3" cy="883.1" r="12.5"/><circle cx="1452" cy="771.2" r="12.5"/><circle cx="1453.7" cy="931.7" r="12.5"/><circle cx="1454.8" cy="840.6" r="12.5"/>
<circle cx="1456.8" cy="778.4" r="12.5"/><circle cx="1456.8" cy="971.5" r="12.5"/><circle cx="1458.4" cy="840.2" r="12.5"/><circle cx="1459.5" cy="936.5" r="12.5"/><circle cx="1460.7" cy="782.2" r="12.5"/><circle cx="1462.3" cy="747.5" r="12.5"/>
<circle cx="1463.1" cy="841.9" r="12.5"/><circle cx="1464.2" cy="918" r="12.5"/><circle cx="1465.4" cy="870.5" r="12.5"/><circle cx="1466.6" cy="809.7" r="12.5"/><circle cx="1467.8" cy="879.3" r="12.5"/><circle cx="1469.5" cy="967.6" r="12.5"/>
<circle cx="1470.4" cy="688.4" r="12.5"/><circle cx="1471.4" cy="791.6" r="12.5"/><circle cx="1472.5" cy="915.2" r="12.5"/><circle cx="1473.3" cy="1004.5" r="12.5"/><circle cx="1475.3" cy="950.1" r="12.5"/><circle cx="1476" cy="899.2" r="12.5"/>
<circle cx="1477.2" cy="876.5" r="12.5"/><circle cx="1478.3" cy="897.5" r="12.5"/><circle cx="1479.5" cy="821.6" r="12.5"/><circle cx="1480.7" cy="961.9" r="12.5"/><circle cx="1481.8" cy="875.7" r="12.5"/><circle cx="1483" cy="817.1" r="12.5"/>
<circle cx="1484.2" cy="943.4" r="12.5"/><circle cx="1485" cy="797.4" r="12.5"/><circle cx="1486.5" cy="909.7" r="12.5"/><circle cx="1487.9" cy="961.8" r="12.5"/><circle cx="1488.9" cy="851.2" r="12.5"/><circle cx="1490.1" cy="841.1" r="12.5"/>
<circle cx="1491.2" cy="865.6" r="12.5"/><circle cx="1492.8" cy="807.1" r="12.5"/><circle cx="1493.6" cy="923.7" r="12.5"/><circle cx="1494.8" cy="955.2" r="12.5"/><circle cx="1495.7" cy="984.1" r="12.5"/><circle cx="1497.1" cy="852.7" r="12.5"/>
<circle cx="1498.3" cy="815.7" r="12.5"/><circle cx="1499.5" cy="821.6" r="12.5"/><circle cx="1500.6" cy="827.9" r="12.5"/><circle cx="1501.8" cy="948.6" r="12.5"/><circle cx="1502.5" cy="758.9" r="12.5"/><circle cx="1504.2" cy="954.8" r="12.5"/>
<circle cx="1505.3" cy="803.9" r="12.5"/><circle cx="1506.5" cy="874.5" r="12.5"/><circle cx="1507.7" cy="840.8" r="12.5"/><circle cx="1508.3" cy="779.9" r="12.5"/><circle cx="1510.3" cy="984.1" r="12.5"/><circle cx="1511.2" cy="833.8" r="12.5"/>
<circle cx="1512.2" cy="946.2" r="12.5"/><circle cx="1515.1" cy="779.9" r="12.5"/><circle cx="1515.1" cy="1030.4" r="12.5"/><circle cx="1515.9" cy="938" r="12.5"/><circle cx="1517.1" cy="903.1" r="12.5"/><circle cx="1518.3" cy="858.7" r="12.5"/>
<circle cx="1520" cy="760.9" r="12.5"/><circle cx="1520.6" cy="867.9" r="12.5"/><circle cx="1521.9" cy="978.3" r="12.5"/><circle cx="1523" cy="931.6" r="12.5"/><circle cx="1524.1" cy="962.6" r="12.5"/><circle cx="1525.8" cy="972.5" r="12.5"/>
<circle cx="1526.5" cy="837.5" r="12.5"/><circle cx="1527.2" cy="1048.6" r="12.5"/><circle cx="1528.8" cy="918" r="12.5"/><circle cx="1529.7" cy="811" r="12.5"/><circle cx="1531.2" cy="902.6" r="12.5"/><circle cx="1532.4" cy="928.5" r="12.5"/>
<circle cx="1533.5" cy="890.5" r="12.5"/><circle cx="1536.1" cy="1048.3" r="12.5"/><circle cx="1537.5" cy="805.2" r="12.5"/><circle cx="1537.5" cy="1013.3" r="12.5"/><circle cx="1539.4" cy="746.9" r="12.5"/><circle cx="1539.4" cy="779.9" r="12.5"/>
<circle cx="1540.6" cy="854.2" r="12.5"/><circle cx="1541.8" cy="809.9" r="12.5"/><circle cx="1542.9" cy="917.3" r="12.5"/><circle cx="1544.1" cy="914.9" r="12.5"/><circle cx="1544.9" cy="783.8" r="12.5"/><circle cx="1546.5" cy="844.9" r="12.5"/>
<circle cx="1547.6" cy="911.5" r="12.5"/><circle cx="1548.8" cy="874.2" r="12.5"/><circle cx="1550" cy="820.6" r="12.5"/><circle cx="1550.7" cy="747.3" r="12.5"/><circle cx="1552.3" cy="933.9" r="12.5"/><circle cx="1553.6" cy="765.3" r="12.5"/>
<circle cx="1554.7" cy="810.8" r="12.5"/><circle cx="1555.8" cy="932" r="12.5"/><circle cx="1557" cy="878.5" r="12.5"/><circle cx="1558.5" cy="822.7" r="12.5"/><circle cx="1559.4" cy="962.8" r="12.5"/><circle cx="1560.5" cy="847.6" r="12.5"/>
<circle cx="1561.7" cy="890.4" r="12.5"/><circle cx="1563.3" cy="994.8" r="12.5"/><circle cx="1564.1" cy="909.5" r="12.5"/><circle cx="1565.3" cy="797" r="12.5"/><circle cx="1566.4" cy="952.4" r="12.5"/><circle cx="1567.6" cy="882.6" r="12.5"/>
<circle cx="1569.1" cy="967.6" r="12.5"/><circle cx="1569.9" cy="844.9" r="12.5"/><circle cx="1571.5" cy="983.5" r="12.5"/><circle cx="1572.6" cy="1046.3" r="12.5"/><circle cx="1573.4" cy="1003.6" r="12.5"/><circle cx="1574.6" cy="972.9" r="12.5"/>
<circle cx="1575.8" cy="937.8" r="12.5"/><circle cx="1577" cy="910.9" r="12.5"/><circle cx="1578.2" cy="845.2" r="12.5"/><circle cx="1579.3" cy="869.3" r="12.5"/><circle cx="1580.8" cy="795.5" r="12.5"/><circle cx="1581.7" cy="939.1" r="12.5"/>
<circle cx="1582.9" cy="871.4" r="12.5"/><circle cx="1584" cy="937.3" r="12.5"/><circle cx="1585.2" cy="909.6" r="12.5"/><circle cx="1586.4" cy="856" r="12.5"/><circle cx="1587.2" cy="778.4" r="12.5"/><circle cx="1588.7" cy="857.4" r="12.5"/>
<circle cx="1589.9" cy="816.5" r="12.5"/><circle cx="1591.5" cy="810" r="12.5"/><circle cx="1592.3" cy="851.5" r="12.5"/><circle cx="1593.4" cy="859.7" r="12.5"/><circle cx="1594.6" cy="937" r="12.5"/><circle cx="1595.8" cy="853.1" r="12.5"/>
<circle cx="1598.3" cy="803.2" r="12.5"/><circle cx="1598.3" cy="963.7" r="12.5"/><circle cx="1599.3" cy="863.3" r="12.5"/><circle cx="1600.5" cy="905.3" r="12.5"/><circle cx="1601.7" cy="865.8" r="12.5"/><circle cx="1602.8" cy="899.3" r="12.5"/>
<circle cx="1604" cy="910" r="12.5"/><circle cx="1605.2" cy="879.8" r="12.5"/><circle cx="1606.5" cy="1033.3" r="12.5"/><circle cx="1608" cy="772.3" r="12.5"/><circle cx="1608.7" cy="844.2" r="12.5"/><circle cx="1610.3" cy="1003.6" r="12.5"/>
<circle cx="1611.1" cy="912.9" r="12.5"/><circle cx="1612.2" cy="948.1" r="12.5"/><circle cx="1613.8" cy="804.2" r="12.5"/><circle cx="1614.6" cy="914.8" r="12.5"/><circle cx="1615.8" cy="914.2" r="12.5"/><circle cx="1617.1" cy="992.3" r="12.5"/>
<circle cx="1618.1" cy="898.8" r="12.5"/><circle cx="1619.3" cy="932.1" r="12.5"/><circle cx="1620.4" cy="860" r="12.5"/><circle cx="1621.6" cy="924.7" r="12.5"/><circle cx="1622.8" cy="858.5" r="12.5"/><circle cx="1624" cy="824.4" r="12.5"/>
<circle cx="1625.1" cy="852.6" r="12.5"/><circle cx="1626.5" cy="971.9" r="12.5"/><circle cx="1627.5" cy="824.1" r="12.5"/><circle cx="1628.7" cy="860.9" r="12.5"/><circle cx="1630.4" cy="1000.6" r="12.5"/><circle cx="1631" cy="952.7" r="12.5"/>
<circle cx="1632.2" cy="816.4" r="12.5"/><circle cx="1633.4" cy="933.9" r="12.5"/><circle cx="1634.5" cy="878.7" r="12.5"/><circle cx="1635.7" cy="952.7" r="12.5"/><circle cx="1636.9" cy="925.8" r="12.5"/><circle cx="1638.1" cy="953.6" r="12.5"/>
<circle cx="1639.2" cy="971.7" r="12.5"/><circle cx="1640.1" cy="807.1" r="12.5"/><circle cx="1641.6" cy="887" r="12.5"/><circle cx="1642.8" cy="962.9" r="12.5"/><circle cx="1643.9" cy="911" r="12.5"/><circle cx="1645.1" cy="811.5" r="12.5"/>
<circle cx="1646.3" cy="859.7" r="12.5"/><circle cx="1647.5" cy="931.5" r="12.5"/><circle cx="1648.6" cy="841.1" r="12.5"/><circle cx="1649.8" cy="877.3" r="12.5"/><circle cx="1651" cy="902.9" r="12.5"/><circle cx="1652.3" cy="713.5" r="12.5"/>
<circle cx="1653.3" cy="804.6" r="12.5"/><circle cx="1654.5" cy="889" r="12.5"/><circle cx="1655.7" cy="834.7" r="12.5"/><circle cx="1656.6" cy="800.3" r="12.5"/><circle cx="1658" cy="862.1" r="12.5"/><circle cx="1659.2" cy="959.2" r="12.5"/>
<circle cx="1660.4" cy="915.2" r="12.5"/><circle cx="1661.5" cy="1071.6" r="12.5"/><circle cx="1662.7" cy="832" r="12.5"/><circle cx="1664.4" cy="805.2" r="12.5"/><circle cx="1665.1" cy="928.5" r="12.5"/><circle cx="1666.3" cy="967.3" r="12.5"/>
<circle cx="1667.7" cy="991.3" r="12.5"/><circle cx="1668.3" cy="820.7" r="12.5"/><circle cx="1669.8" cy="892.3" r="12.5"/><circle cx="1671.6" cy="1021.4" r="12.5"/><circle cx="1672.1" cy="967.6" r="12.5"/><circle cx="1672.5" cy="1068.7" r="12.5"/>
<circle cx="1674.5" cy="943.8" r="12.5"/><circle cx="1675.7" cy="956.7" r="12.5"/><circle cx="1676.8" cy="851.6" r="12.5"/><circle cx="1678" cy="868.9" r="12.5"/><circle cx="1679.2" cy="858.3" r="12.5"/><circle cx="1679.9" cy="789.2" r="12.5"/>
<circle cx="1681.5" cy="848.8" r="12.5"/><circle cx="1682.7" cy="848.7" r="12.5"/><circle cx="1683.8" cy="963.7" r="12.5"/><circle cx="1685.1" cy="911.1" r="12.5"/><circle cx="1686.2" cy="852.3" r="12.5"/><circle cx="1687.7" cy="797.4" r="12.5"/>
<circle cx="1688.6" cy="929" r="12.5"/><circle cx="1689.8" cy="910.1" r="12.5"/><circle cx="1691.2" cy="970.5" r="12.5"/><circle cx="1692.4" cy="735.4" r="12.5"/><circle cx="1693.3" cy="943.6" r="12.5"/><circle cx="1694.4" cy="826.7" r="12.5"/>
<circle cx="1695.6" cy="875.7" r="12.5"/><circle cx="1696.8" cy="871.5" r="12.5"/><circle cx="1698" cy="845.5" r="12.5"/><circle cx="1699.1" cy="946.3" r="12.5"/><circle cx="1700.3" cy="845.9" r="12.5"/><circle cx="1701.3" cy="804.8" r="12.5"/>
<circle cx="1702.7" cy="859.8" r="12.5"/><circle cx="1703.8" cy="892.5" r="12.5"/><circle cx="1705" cy="881" r="12.5"/><circle cx="1706.2" cy="845.3" r="12.5"/><circle cx="1707.4" cy="904.9" r="12.5"/><circle cx="1708.5" cy="863.4" r="12.5"/>
<circle cx="1709.7" cy="827.7" r="12.5"/><circle cx="1710.9" cy="868.3" r="12.5"/><circle cx="1712.1" cy="880.5" r="12.5"/><circle cx="1713.2" cy="916" r="12.5"/><circle cx="1714.9" cy="968.6" r="12.5"/><circle cx="1715.6" cy="923.3" r="12.5"/>
<circle cx="1716.3" cy="983.2" r="12.5"/><circle cx="1717.9" cy="909.3" r="12.5"/><circle cx="1719.1" cy="922.3" r="12.5"/><circle cx="1720.7" cy="814.9" r="12.5"/><circle cx="1721.5" cy="853.7" r="12.5"/><circle cx="1722.6" cy="964.5" r="12.5"/>
<circle cx="1723.8" cy="974.4" r="12.5"/><circle cx="1725" cy="825.8" r="12.5"/><circle cx="1726.2" cy="851.9" r="12.5"/><circle cx="1727.3" cy="900.2" r="12.5"/><circle cx="1728.5" cy="859.1" r="12.5"/><circle cx="1729.7" cy="841.9" r="12.5"/>
<circle cx="1731.4" cy="774.5" r="12.5"/><circle cx="1732" cy="913.7" r="12.5"/><circle cx="1733.2" cy="942.4" r="12.5"/><circle cx="1734.4" cy="936.4" r="12.5"/><circle cx="1735.7" cy="997.3" r="12.5"/><circle cx="1736.3" cy="963.7" r="12.5"/>
<circle cx="1737.9" cy="854.3" r="12.5"/><circle cx="1739.1" cy="868.9" r="12.5"/><circle cx="1740.3" cy="932.6" r="12.5"/><circle cx="1741.4" cy="914.1" r="12.5"/><circle cx="1742.6" cy="908.7" r="12.5"/><circle cx="1743.8" cy="816.2" r="12.5"/>
<circle cx="1745" cy="847" r="12.5"/><circle cx="1746.1" cy="951.5" r="12.5"/><circle cx="1747.3" cy="927.3" r="12.5"/><circle cx="1748.5" cy="919.2" r="12.5"/><circle cx="1749.9" cy="813.9" r="12.5"/><circle cx="1750.8" cy="856.4" r="12.5"/>
<circle cx="1752" cy="858" r="12.5"/><circle cx="1753.2" cy="880" r="12.5"/><circle cx="1754.4" cy="853.3" r="12.5"/><circle cx="1755.7" cy="820.7" r="12.5"/><circle cx="1756.7" cy="896.6" r="12.5"/><circle cx="1757.9" cy="909.6" r="12.5"/>
<circle cx="1759.1" cy="818.6" r="12.5"/><circle cx="1760.2" cy="776.4" r="12.5"/><circle cx="1761.5" cy="796.4" r="12.5"/><circle cx="1762.6" cy="916.5" r="12.5"/><circle cx="1763.5" cy="961.8" r="12.5"/><circle cx="1764.9" cy="846.8" r="12.5"/>
<circle cx="1766.1" cy="826.3" r="12.5"/><circle cx="1767.3" cy="881" r="12.5"/><circle cx="1768.3" cy="967.6" r="12.5"/><circle cx="1769.6" cy="833.5" r="12.5"/><circle cx="1770.8" cy="883.5" r="12.5"/><circle cx="1772" cy="900.5" r="12.5"/>
<circle cx="1773.1" cy="829.4" r="12.5"/><circle cx="1774.2" cy="794.5" r="12.5"/><circle cx="1775.5" cy="930.7" r="12.5"/><circle cx="1776.7" cy="943.3" r="12.5"/><circle cx="1777.8" cy="901.9" r="12.5"/><circle cx="1779" cy="841.5" r="12.5"/>
<circle cx="1780.2" cy="923.4" r="12.5"/><circle cx="1781.4" cy="823.5" r="12.5"/><circle cx="1782.5" cy="870.9" r="12.5"/><circle cx="1783.7" cy="854" r="12.5"/><circle cx="1784.9" cy="868.2" r="12.5"/><circle cx="1786.1" cy="836.3" r="12.5"/>
<circle cx="1787.2" cy="833" r="12.5"/><circle cx="1788.4" cy="862.3" r="12.5"/><circle cx="1789.6" cy="924.3" r="12.5"/><circle cx="1790.8" cy="879.1" r="12.5"/><circle cx="1791.9" cy="879.3" r="12.5"/><circle cx="1793.1" cy="938.3" r="12.5"/>
<circle cx="1794.3" cy="914.3" r="12.5"/><circle cx="1795.5" cy="928.6" r="12.5"/><circle cx="1796.6" cy="885.2" r="12.5"/><circle cx="1797.8" cy="907.4" r="12.5"/><circle cx="1799.4" cy="810.2" r="12.5"/><circle cx="1800.4" cy="859.6" r="12.5"/>
<circle cx="1801.3" cy="900.5" r="12.5"/><circle cx="1802.5" cy="849.4" r="12.5"/><circle cx="1803.5" cy="983.5" r="12.5"/><circle cx="1804.9" cy="898.1" r="12.5"/><circle cx="1806" cy="855.9" r="12.5"/><circle cx="1807.4" cy="1032.3" r="12.5"/>
<circle cx="1808.4" cy="903" r="12.5"/><circle cx="1809.6" cy="833.5" r="12.5"/><circle cx="1810.7" cy="890.2" r="12.5"/><circle cx="1812.1" cy="961.8" r="12.5"/><circle cx="1813.1" cy="918.3" r="12.5"/><circle cx="1814.3" cy="855.8" r="12.5"/>
<circle cx="1815.4" cy="948.1" r="12.5"/><circle cx="1816.6" cy="921" r="12.5"/><circle cx="1817.8" cy="968.4" r="12.5"/><circle cx="1819" cy="899.3" r="12.5"/><circle cx="1820.1" cy="824.8" r="12.5"/><circle cx="1821.8" cy="774.5" r="12.5"/>
<circle cx="1822.5" cy="824.3" r="12.5"/><circle cx="1823.7" cy="908" r="12.5"/><circle cx="1824.8" cy="911.5" r="12.5"/><circle cx="1826" cy="864" r="12.5"/><circle cx="1827.2" cy="939.9" r="12.5"/><circle cx="1828.4" cy="812.1" r="12.5"/>
<circle cx="1829.5" cy="931.4" r="12.5"/><circle cx="1830.7" cy="866.2" r="12.5"/><circle cx="1831.9" cy="912" r="12.5"/><circle cx="1833.1" cy="942.2" r="12.5"/><circle cx="1835" cy="815.3" r="12.5"/><circle cx="1836" cy="993.5" r="12.5"/>
<circle cx="1836.6" cy="854.1" r="12.5"/><circle cx="1837.7" cy="956.7" r="12.5"/><circle cx="1838.9" cy="915.2" r="12.5"/><circle cx="1840.1" cy="876.6" r="12.5"/><circle cx="1841.3" cy="842.6" r="12.5"/><circle cx="1842.6" cy="1031.3" r="12.5"/>
<circle cx="1843.1" cy="967.6" r="12.5"/><circle cx="1843.7" cy="992.3" r="12.5"/><circle cx="1846" cy="841.3" r="12.5"/><circle cx="1847.4" cy="774.9" r="12.5"/><circle cx="1848.3" cy="965.3" r="12.5"/><circle cx="1849.5" cy="967.7" r="12.5"/>
<circle cx="1850.7" cy="920.3" r="12.5"/><circle cx="1851.5" cy="794.1" r="12.5"/><circle cx="1852.9" cy="963.7" r="12.5"/><circle cx="1854.2" cy="822.7" r="12.5"/><circle cx="1855.4" cy="880.1" r="12.5"/><circle cx="1856.5" cy="844.5" r="12.5"/>
<circle cx="1857.7" cy="841.2" r="12.5"/><circle cx="1858.9" cy="821.1" r="12.5"/><circle cx="1860.1" cy="814.3" r="12.5"/><circle cx="1861.2" cy="913.4" r="12.5"/><circle cx="1862.4" cy="864.1" r="12.5"/><circle cx="1863.6" cy="858" r="12.5"/>
<circle cx="1864.8" cy="889" r="12.5"/><circle cx="1865.9" cy="838.4" r="12.5"/><circle cx="1867.1" cy="958.2" r="12.5"/><circle cx="1868.3" cy="871.8" r="12.5"/><circle cx="1869.5" cy="814.8" r="12.5"/><circle cx="1870.4" cy="816.8" r="12.5"/>
<circle cx="1871.8" cy="933.9" r="12.5"/><circle cx="1873" cy="880.7" r="12.5"/><circle cx="1874.2" cy="839.6" r="12.5"/><circle cx="1875.3" cy="834.5" r="12.5"/><circle cx="1876.5" cy="901.5" r="12.5"/><circle cx="1878.1" cy="814.9" r="12.5"/>
<circle cx="1878.9" cy="870.4" r="12.5"/><circle cx="1880" cy="844.4" r="12.5"/><circle cx="1881.2" cy="971.6" r="12.5"/><circle cx="1882" cy="966.6" r="12.5"/><circle cx="1883.6" cy="908" r="12.5"/><circle cx="1884.7" cy="939.3" r="12.5"/>
<circle cx="1885.9" cy="895.5" r="12.5"/><circle cx="1887.1" cy="846.5" r="12.5"/><circle cx="1887.8" cy="795.5" r="12.5"/><circle cx="1889.4" cy="841.2" r="12.5"/><circle cx="1890.4" cy="1015.2" r="12.5"/><circle cx="1891.8" cy="899.1" r="12.5"/>
<circle cx="1893" cy="861.4" r="12.5"/><circle cx="1894.1" cy="856.7" r="12.5"/><circle cx="1895.2" cy="980.2" r="12.5"/><circle cx="1896.5" cy="817" r="12.5"/><circle cx="1897.6" cy="803.2" r="12.5"/><circle cx="1898.5" cy="1003.2" r="12.5"/>
<circle cx="1900" cy="867.7" r="12.5"/><circle cx="1901.2" cy="983" r="12.5"/><circle cx="1902.4" cy="937.9" r="12.5"/><circle cx="1903.5" cy="943.4" r="12.5"/><circle cx="1904.7" cy="873.1" r="12.5"/><circle cx="1905.9" cy="917.3" r="12.5"/>
<circle cx="1907" cy="933.6" r="12.5"/><circle cx="1908.2" cy="868.2" r="12.5"/><circle cx="1909.4" cy="830.8" r="12.5"/><circle cx="1910.2" cy="805.2" r="12.5"/><circle cx="1911.7" cy="912.3" r="12.5"/><circle cx="1912.9" cy="841" r="12.5"/>
<circle cx="1914.1" cy="914.1" r="12.5"/><circle cx="1915.3" cy="824.7" r="12.5"/><circle cx="1916.4" cy="854.5" r="12.5"/><circle cx="1917.6" cy="869.8" r="12.5"/><circle cx="1918.8" cy="864.8" r="12.5"/><circle cx="1920" cy="840.9" r="12.5"/>
<circle cx="1922.8" cy="815.9" r="12.5"/><circle cx="1922.8" cy="963.7" r="12.5"/><circle cx="1923.5" cy="909.6" r="12.5"/><circle cx="1924.7" cy="847.5" r="12.5"/><circle cx="1925.8" cy="950.6" r="12.5"/><circle cx="1927" cy="909.9" r="12.5"/>
<circle cx="1928.2" cy="888.8" r="12.5"/><circle cx="1929.6" cy="1024.9" r="12.5"/><circle cx="1930.5" cy="815.7" r="12.5"/><circle cx="1931.6" cy="787.3" r="12.5"/><circle cx="1932.9" cy="878.3" r="12.5"/><circle cx="1934.1" cy="946.2" r="12.5"/>
<circle cx="1935.5" cy="1040.5" r="12.5"/><circle cx="1936.4" cy="845" r="12.5"/><circle cx="1937.4" cy="957.9" r="12.5"/><circle cx="1938.8" cy="946.3" r="12.5"/><circle cx="1939.9" cy="967.5" r="12.5"/><circle cx="1941.1" cy="948.7" r="12.5"/>
<circle cx="1942.3" cy="847.4" r="12.5"/><circle cx="1943.5" cy="926.2" r="12.5"/><circle cx="1944.6" cy="869.9" r="12.5"/><circle cx="1945.6" cy="1071.6" r="12.5"/><circle cx="1947" cy="873.8" r="12.5"/><circle cx="1948.7" cy="1030.2" r="12.5"/>
<circle cx="1949.3" cy="914.5" r="12.5"/><circle cx="1950.5" cy="810.2" r="12.5"/><circle cx="1951.7" cy="947.2" r="12.5"/><circle cx="1952.9" cy="902.1" r="12.5"/><circle cx="1954" cy="861.9" r="12.5"/><circle cx="1955.5" cy="797" r="12.5"/>
<circle cx="1956.4" cy="858.9" r="12.5"/><circle cx="1957.8" cy="967.6" r="12.5"/><circle cx="1958.7" cy="958.8" r="12.5"/><circle cx="1959.9" cy="861.7" r="12.5"/><circle cx="1960.7" cy="972.5" r="12.5"/><circle cx="1962.3" cy="849.9" r="12.5"/>
<circle cx="1963.4" cy="897.3" r="12.5"/><circle cx="1964.6" cy="823.2" r="12.5"/><circle cx="1965.8" cy="901.8" r="12.5"/><circle cx="1967" cy="931.5" r="12.5"/><circle cx="1968.1" cy="872" r="12.5"/><circle cx="1969.3" cy="890.3" r="12.5"/>
<circle cx="1970.5" cy="843.7" r="12.5"/><circle cx="1971.7" cy="945.6" r="12.5"/><circle cx="1973.3" cy="814.9" r="12.5"/><circle cx="1974" cy="854.2" r="12.5"/><circle cx="1975.2" cy="859.6" r="12.5"/><circle cx="1976.3" cy="861.6" r="12.5"/>
<circle cx="1977.5" cy="822.2" r="12.5"/><circle cx="1978.7" cy="913.2" r="12.5"/><circle cx="1979.6" cy="764.4" r="12.5"/><circle cx="1981" cy="886.5" r="12.5"/><circle cx="1982.2" cy="911.2" r="12.5"/><circle cx="1983.4" cy="905.5" r="12.5"/>
<circle cx="1985" cy="968.6" r="12.5"/><circle cx="1985.7" cy="858.3" r="12.5"/><circle cx="1986.9" cy="890.3" r="12.5"/><circle cx="1988.1" cy="947.5" r="12.5"/><circle cx="1989.3" cy="867.4" r="12.5"/><circle cx="1990.8" cy="983.2" r="12.5"/>
<circle cx="1991.6" cy="941" r="12.5"/><circle cx="1992.8" cy="932.8" r="12.5"/><circle cx="1994" cy="905.1" r="12.5"/><circle cx="1994.7" cy="816.8" r="12.5"/><circle cx="1996.3" cy="920.5" r="12.5"/><circle cx="1997.5" cy="797.5" r="12.5"/>
<circle cx="1998.7" cy="928.9" r="12.5"/><circle cx="1999.8" cy="881" r="12.5"/><circle cx="2001" cy="814.1" r="12.5"/><circle cx="2002.2" cy="883.6" r="12.5"/><circle cx="2003.4" cy="819.2" r="12.5"/><circle cx="2004.5" cy="842.9" r="12.5"/>
<circle cx="2005.7" cy="857.7" r="12.5"/><circle cx="2006.9" cy="886.8" r="12.5"/><circle cx="2008.1" cy="901.6" r="12.5"/><circle cx="2009.2" cy="896.3" r="12.5"/><circle cx="2010.4" cy="933.8" r="12.5"/><circle cx="2011.6" cy="871.7" r="12.5"/>
<circle cx="2012.2" cy="960.8" r="12.5"/><circle cx="2013.6" cy="1013.7" r="12.5"/><circle cx="2015.1" cy="931.7" r="12.5"/><circle cx="2016.3" cy="884.7" r="12.5"/><circle cx="2018" cy="989" r="12.5"/><circle cx="2018.6" cy="961.8" r="12.5"/>
<circle cx="2019.8" cy="884.6" r="12.5"/><circle cx="2021.5" cy="977.9" r="12.5"/><circle cx="2022.2" cy="949.4" r="12.5"/><circle cx="2023.3" cy="820" r="12.5"/><circle cx="2024.5" cy="907.5" r="12.5"/><circle cx="2025.7" cy="970.2" r="12.5"/>
<circle cx="2026.9" cy="862.2" r="12.5"/><circle cx="2027.8" cy="798.4" r="12.5"/><circle cx="2029.2" cy="969.5" r="12.5"/><circle cx="2030.4" cy="899.6" r="12.5"/><circle cx="2031.6" cy="932.4" r="12.5"/><circle cx="2032.7" cy="899.9" r="12.5"/>
<circle cx="2033.9" cy="939.9" r="12.5"/><circle cx="2035.5" cy="995.8" r="12.5"/><circle cx="2036.3" cy="885.1" r="12.5"/><circle cx="2037.4" cy="849.2" r="12.5"/><circle cx="2039.4" cy="789.6" r="12.5"/><circle cx="2040" cy="809.1" r="12.5"/>
<circle cx="2041" cy="860.1" r="12.5"/><circle cx="2042.1" cy="922.1" r="12.5"/><circle cx="2043.3" cy="885.8" r="12.5"/><circle cx="2044.9" cy="789.2" r="12.5"/><circle cx="2045.7" cy="815.5" r="12.5"/><circle cx="2046.8" cy="842.4" r="12.5"/>
<circle cx="2048" cy="860.5" r="12.5"/><circle cx="2049.2" cy="857.6" r="12.5"/><circle cx="2050.3" cy="849.1" r="12.5"/><circle cx="2051.7" cy="971.5" r="12.5"/><circle cx="2052.7" cy="853.2" r="12.5"/><circle cx="2053.9" cy="854.4" r="12.5"/>
<circle cx="2055" cy="938.5" r="12.5"/><circle cx="2056.5" cy="967.6" r="12.5"/><circle cx="2057.4" cy="942.5" r="12.5"/><circle cx="2058.6" cy="831.2" r="12.5"/><circle cx="2059.7" cy="920.2" r="12.5"/><circle cx="2060.9" cy="874.9" r="12.5"/>
<circle cx="2062.1" cy="921.7" r="12.5"/><circle cx="2063.3" cy="897.2" r="12.5"/><circle cx="2064.4" cy="884.2" r="12.5"/><circle cx="2065.3" cy="823.6" r="12.5"/><circle cx="2066.8" cy="848.7" r="12.5"/><circle cx="2068" cy="918.6" r="12.5"/>
<circle cx="2069.1" cy="856.3" r="12.5"/><circle cx="2070.3" cy="922.4" r="12.5"/><circle cx="2071.1" cy="823.6" r="12.5"/><circle cx="2072.7" cy="920.8" r="12.5"/><circle cx="2073.8" cy="924.7" r="12.5"/><circle cx="2075.6" cy="783.8" r="12.5"/>
<circle cx="2076.3" cy="768.3" r="12.5"/><circle cx="2077.4" cy="902.3" r="12.5"/><circle cx="2078.5" cy="779.5" r="12.5"/><circle cx="2079.7" cy="936.3" r="12.5"/><circle cx="2080.9" cy="889" r="12.5"/><circle cx="2082.1" cy="862.3" r="12.5"/>
<circle cx="2083.2" cy="923.1" r="12.5"/><circle cx="2084.4" cy="961.8" r="12.5"/><circle cx="2085.7" cy="986.1" r="12.5"/><circle cx="2086.8" cy="831.6" r="12.5"/><circle cx="2087.6" cy="1000.3" r="12.5"/><circle cx="2089.1" cy="955" r="12.5"/>
<circle cx="2090.3" cy="911.4" r="12.5"/><circle cx="2091.5" cy="939.7" r="12.5"/><circle cx="2092.5" cy="805.2" r="12.5"/><circle cx="2093.8" cy="967.1" r="12.5"/><circle cx="2095" cy="937.7" r="12.5"/><circle cx="2096.4" cy="820.7" r="12.5"/>
<circle cx="2097.3" cy="934" r="12.5"/><circle cx="2098.5" cy="873.8" r="12.5"/><circle cx="2099.7" cy="856.5" r="12.5"/><circle cx="2100.9" cy="892.2" r="12.5"/><circle cx="2102.2" cy="977.3" r="12.5"/><circle cx="2103.2" cy="938.5" r="12.5"/>
<circle cx="2104.4" cy="852" r="12.5"/><circle cx="2105.6" cy="867.8" r="12.5"/><circle cx="2106.7" cy="868.2" r="12.5"/><circle cx="2107.9" cy="902.7" r="12.5"/><circle cx="2109.1" cy="933.1" r="12.5"/><circle cx="2110.3" cy="782.2" r="12.5"/>
<circle cx="2111.9" cy="822.7" r="12.5"/><circle cx="2112.6" cy="851.3" r="12.5"/><circle cx="2113.8" cy="955.7" r="12.5"/><circle cx="2115" cy="900.9" r="12.5"/><circle cx="2116.1" cy="922.3" r="12.5"/><circle cx="2117.7" cy="980.6" r="12.5"/>
<circle cx="2118.5" cy="939.3" r="12.5"/><circle cx="2119.3" cy="746.3" r="12.5"/><circle cx="2120.8" cy="896.4" r="12.5"/><circle cx="2122" cy="841.3" r="12.5"/><circle cx="2123.2" cy="899.6" r="12.5"/><circle cx="2124.3" cy="909.8" r="12.5"/>
<circle cx="2125.5" cy="872.2" r="12.5"/><circle cx="2126.5" cy="812" r="12.5"/><circle cx="2127.4" cy="750.4" r="12.5"/><circle cx="2129" cy="912.4" r="12.5"/><circle cx="2130.2" cy="904.8" r="12.5"/><circle cx="2131.4" cy="919.2" r="12.5"/>
<circle cx="2132.3" cy="963.1" r="12.5"/><circle cx="2133.7" cy="968.4" r="12.5"/><circle cx="2134.9" cy="878.3" r="12.5"/><circle cx="2136.1" cy="838.3" r="12.5"/><circle cx="2137.2" cy="831.4" r="12.5"/><circle cx="2138.4" cy="902" r="12.5"/>
<circle cx="2139.5" cy="994.8" r="12.5"/><circle cx="2140.8" cy="856.1" r="12.5"/><circle cx="2142" cy="956.1" r="12.5"/><circle cx="2143.1" cy="862.8" r="12.5"/><circle cx="2144.3" cy="875.7" r="12.5"/><circle cx="2145.5" cy="847.3" r="12.5"/>
<circle cx="2146.5" cy="981.6" r="12.5"/><circle cx="2147.5" cy="701.2" r="12.5"/><circle cx="2149" cy="914.7" r="12.5"/><circle cx="2150.2" cy="908.3" r="12.5"/><circle cx="2151.4" cy="896.3" r="12.5"/><circle cx="2152.5" cy="938.3" r="12.5"/>
<circle cx="2153.7" cy="921.6" r="12.5"/><circle cx="2154.9" cy="863.7" r="12.5"/><circle cx="2156.1" cy="888" r="12.5"/><circle cx="2157.2" cy="927.6" r="12.5"/><circle cx="2158.5" cy="752.3" r="12.5"/><circle cx="2159.6" cy="847.7" r="12.5"/>
<circle cx="2160.8" cy="859.4" r="12.5"/><circle cx="2161.9" cy="878.1" r="12.5"/><circle cx="2163.1" cy="861.8" r="12.5"/><circle cx="2164.4" cy="808.1" r="12.5"/><circle cx="2165.5" cy="838.3" r="12.5"/><circle cx="2166.6" cy="955.2" r="12.5"/>
<circle cx="2167.8" cy="881" r="12.5"/><circle cx="2169" cy="814.3" r="12.5"/><circle cx="2170.2" cy="828.6" r="12.5"/><circle cx="2171.3" cy="909.1" r="12.5"/><circle cx="2172.5" cy="841.5" r="12.5"/><circle cx="2174.1" cy="967.6" r="12.5"/>
<circle cx="2174.9" cy="872.5" r="12.5"/><circle cx="2176" cy="880.5" r="12.5"/><circle cx="2177.2" cy="918" r="12.5"/><circle cx="2178.4" cy="844.5" r="12.5"/><circle cx="2179.6" cy="860.2" r="12.5"/><circle cx="2180.7" cy="819.7" r="12.5"/>
<circle cx="2181.9" cy="813.9" r="12.5"/><circle cx="2183.1" cy="873.2" r="12.5"/><circle cx="2185.4" cy="794.1" r="12.5"/><circle cx="2185.7" cy="816.8" r="12.5"/><circle cx="2186.6" cy="830.5" r="12.5"/><circle cx="2187.8" cy="846" r="12.5"/>
<circle cx="2188.7" cy="997.3" r="12.5"/><circle cx="2190.1" cy="949.9" r="12.5"/><circle cx="2191.3" cy="846.4" r="12.5"/><circle cx="2192.5" cy="920.5" r="12.5"/><circle cx="2193.6" cy="895.3" r="12.5"/><circle cx="2194.8" cy="840.6" r="12.5"/>
<circle cx="2196" cy="856.6" r="12.5"/><circle cx="2197.2" cy="923" r="12.5"/><circle cx="2198.3" cy="901.8" r="12.5"/><circle cx="2199.3" cy="830.4" r="12.5"/><circle cx="2200.3" cy="785.4" r="12.5"/><circle cx="2201.3" cy="972.5" r="12.5"/>
<circle cx="2203" cy="880.4" r="12.5"/><circle cx="2204.2" cy="872.6" r="12.5"/><circle cx="2205.4" cy="923" r="12.5"/><circle cx="2206.1" cy="1030.4" r="12.5"/><circle cx="2207.7" cy="852.2" r="12.5"/><circle cx="2208.9" cy="964" r="12.5"/>
<circle cx="2210.1" cy="869.9" r="12.5"/><circle cx="2211.3" cy="927.8" r="12.5"/><circle cx="2212.4" cy="889.6" r="12.5"/><circle cx="2213.9" cy="953" r="12.5"/><circle cx="2214.8" cy="886.1" r="12.5"/><circle cx="2216" cy="921.3" r="12.5"/>
<circle cx="2217.1" cy="932.4" r="12.5"/><circle cx="2218.3" cy="950.1" r="12.5"/><circle cx="2219.5" cy="872.2" r="12.5"/><circle cx="2220.7" cy="969" r="12.5"/><circle cx="2222.3" cy="1014.2" r="12.5"/><circle cx="2223" cy="958.2" r="12.5"/>
<circle cx="2224.2" cy="865" r="12.5"/><circle cx="2225.6" cy="988" r="12.5"/><circle cx="2226.5" cy="955.3" r="12.5"/><circle cx="2227.5" cy="1022.4" r="12.5"/><circle cx="2228.9" cy="938.6" r="12.5"/><circle cx="2230.1" cy="843.2" r="12.5"/>
<circle cx="2231.2" cy="896.9" r="12.5"/><circle cx="2232.4" cy="830.7" r="12.5"/><circle cx="2233.6" cy="898.4" r="12.5"/><circle cx="2234.3" cy="801.3" r="12.5"/><circle cx="2235.9" cy="886" r="12.5"/><circle cx="2237.1" cy="860.2" r="12.5"/>
<circle cx="2238.3" cy="820.1" r="12.5"/><circle cx="2239.5" cy="846.8" r="12.5"/><circle cx="2240.2" cy="760.5" r="12.5"/><circle cx="2241.8" cy="879.7" r="12.5"/><circle cx="2243" cy="865.2" r="12.5"/><circle cx="2244.2" cy="861.1" r="12.5"/>
<circle cx="2245.3" cy="897.3" r="12.5"/><circle cx="2246" cy="971.9" r="12.5"/><circle cx="2247.9" cy="813.9" r="12.5"/><circle cx="2248.9" cy="835.6" r="12.5"/><circle cx="2249.5" cy="795.5" r="12.5"/><circle cx="2251.2" cy="830.6" r="12.5"/>
<circle cx="2252.4" cy="908.5" r="12.5"/><circle cx="2253.6" cy="890.3" r="12.5"/><circle cx="2254.7" cy="986.5" r="12.5"/><circle cx="2256.1" cy="775.4" r="12.5"/><circle cx="2257.6" cy="954" r="12.5"/><circle cx="2258.3" cy="847.5" r="12.5"/>
<circle cx="2259.4" cy="933.9" r="12.5"/><circle cx="2260.6" cy="847.7" r="12.5"/><circle cx="2261.8" cy="938.7" r="12.5"/><circle cx="2262.9" cy="848.4" r="12.5"/><circle cx="2264.1" cy="891.5" r="12.5"/><circle cx="2265.3" cy="905.3" r="12.5"/>
<circle cx="2266.5" cy="902.8" r="12.5"/><circle cx="2267.6" cy="841.6" r="12.5"/><circle cx="2268.8" cy="957.3" r="12.5"/><circle cx="2270" cy="934.4" r="12.5"/><circle cx="2271.2" cy="912.1" r="12.5"/><circle cx="2272.6" cy="784.4" r="12.5"/>
<circle cx="2273.5" cy="955.8" r="12.5"/><circle cx="2274.7" cy="837.8" r="12.5"/><circle cx="2275.9" cy="946.4" r="12.5"/><circle cx="2277" cy="947.6" r="12.5"/><circle cx="2278.2" cy="887.8" r="12.5"/><circle cx="2279.4" cy="879.7" r="12.5"/>
<circle cx="2281" cy="944.3" r="12.5"/><circle cx="2281.7" cy="925.2" r="12.5"/><circle cx="2282.9" cy="888.9" r="12.5"/><circle cx="2285.2" cy="997.7" r="12.5"/><circle cx="2285.8" cy="970.9" r="12.5"/><circle cx="2286.4" cy="932.5" r="12.5"/>
<circle cx="2287.6" cy="884.7" r="12.5"/><circle cx="2288.8" cy="921.9" r="12.5"/><circle cx="2290.7" cy="987" r="12.5"/><circle cx="2291.3" cy="1154.6" r="12.5"/><circle cx="2292.3" cy="890.1" r="12.5"/><circle cx="2293.5" cy="928" r="12.5"/>
<circle cx="2294.7" cy="885.5" r="12.5"/><circle cx="2295.8" cy="896.5" r="12.5"/><circle cx="2296.5" cy="969.6" r="12.5"/><circle cx="2298.2" cy="929.5" r="12.5"/><circle cx="2299.4" cy="985.5" r="12.5"/><circle cx="2300.5" cy="924" r="12.5"/>
<circle cx="2301.7" cy="883.2" r="12.5"/><circle cx="2302.9" cy="870" r="12.5"/><circle cx="2304.1" cy="968.6" r="12.5"/><circle cx="2305.2" cy="864.5" r="12.5"/><circle cx="2306.4" cy="902" r="12.5"/><circle cx="2307.2" cy="801.3" r="12.5"/>
<circle cx="2308.8" cy="806.2" r="12.5"/><circle cx="2310.1" cy="796.4" r="12.5"/><circle cx="2311.1" cy="816.8" r="12.5"/><circle cx="2312.3" cy="887.3" r="12.5"/><circle cx="2314" cy="952.1" r="12.5"/><circle cx="2314.6" cy="865.4" r="12.5"/>
<circle cx="2315.9" cy="783.2" r="12.5"/><circle cx="2317" cy="880.8" r="12.5"/><circle cx="2318.2" cy="837.3" r="12.5"/><circle cx="2319.3" cy="864" r="12.5"/><circle cx="2320.5" cy="842.9" r="12.5"/><circle cx="2321.7" cy="916.4" r="12.5"/>
<circle cx="2322.9" cy="821.6" r="12.5"/><circle cx="2324" cy="836.9" r="12.5"/><circle cx="2325.2" cy="842.5" r="12.5"/><circle cx="2326.4" cy="951.9" r="12.5"/><circle cx="2327.6" cy="816.3" r="12.5"/><circle cx="2328.7" cy="987.9" r="12.5"/>
<circle cx="2329.9" cy="860.2" r="12.5"/><circle cx="2331.1" cy="830.8" r="12.5"/><circle cx="2332.2" cy="968.7" r="12.5"/><circle cx="2333.4" cy="930.4" r="12.5"/><circle cx="2334.6" cy="862" r="12.5"/><circle cx="2335.8" cy="824.5" r="12.5"/>
<circle cx="2336.9" cy="867.6" r="12.5"/><circle cx="2338.1" cy="947.5" r="12.5"/><circle cx="2339.3" cy="952.1" r="12.5"/><circle cx="2340.5" cy="935.2" r="12.5"/><circle cx="2341.6" cy="911.3" r="12.5"/><circle cx="2342.8" cy="870.3" r="12.5"/>
<circle cx="2343.5" cy="785.4" r="12.5"/><circle cx="2345.2" cy="892" r="12.5"/><circle cx="2346.3" cy="869" r="12.5"/><circle cx="2347.5" cy="844.8" r="12.5"/><circle cx="2348.7" cy="842.3" r="12.5"/><circle cx="2349.9" cy="907" r="12.5"/>
<circle cx="2350.9" cy="961.8" r="12.5"/><circle cx="2352.2" cy="838.9" r="12.5"/><circle cx="2353.4" cy="861.8" r="12.5"/><circle cx="2354.6" cy="805.3" r="12.5"/><circle cx="2355.8" cy="962.8" r="12.5"/><circle cx="2356.9" cy="786.3" r="12.5"/>
<circle cx="2358.1" cy="960" r="12.5"/><circle cx="2359.3" cy="870.5" r="12.5"/><circle cx="2361" cy="809.6" r="12.5"/><circle cx="2361.6" cy="867.3" r="12.5"/><circle cx="2362.8" cy="935.8" r="12.5"/><circle cx="2364" cy="871.2" r="12.5"/>
<circle cx="2365.1" cy="814.1" r="12.5"/><circle cx="2366.3" cy="956.7" r="12.5"/><circle cx="2367.4" cy="993.8" r="12.5"/><circle cx="2368.4" cy="986.1" r="12.5"/><circle cx="2369.8" cy="907.4" r="12.5"/><circle cx="2371" cy="888.5" r="12.5"/>
<circle cx="2372.2" cy="937.9" r="12.5"/><circle cx="2373.4" cy="857.2" r="12.5"/><circle cx="2374.2" cy="1027.5" r="12.5"/><circle cx="2375.2" cy="805.2" r="12.5"/><circle cx="2377.2" cy="799.3" r="12.5"/><circle cx="2378.1" cy="860.1" r="12.5"/>
<circle cx="2379.2" cy="854.3" r="12.5"/><circle cx="2380.1" cy="812.4" r="12.5"/><circle cx="2381.6" cy="911.7" r="12.5"/><circle cx="2382.8" cy="881.3" r="12.5"/><circle cx="2383.9" cy="876" r="12.5"/><circle cx="2385.1" cy="887.1" r="12.5"/>
<circle cx="2385.9" cy="960.8" r="12.5"/><circle cx="2387.5" cy="980.6" r="12.5"/><circle cx="2388.6" cy="852.1" r="12.5"/><circle cx="2389.8" cy="913.6" r="12.5"/><circle cx="2391" cy="836.5" r="12.5"/><circle cx="2392.2" cy="963.5" r="12.5"/>
<circle cx="2393.3" cy="968.7" r="12.5"/><circle cx="2394.5" cy="880.2" r="12.5"/><circle cx="2395.7" cy="901.6" r="12.5"/><circle cx="2396.9" cy="870.7" r="12.5"/><circle cx="2398" cy="829.4" r="12.5"/><circle cx="2399.2" cy="864.4" r="12.5"/>
<circle cx="2399.9" cy="800.3" r="12.5"/><circle cx="2402" cy="1019.1" r="12.5"/><circle cx="2403.4" cy="783.4" r="12.5"/><circle cx="2403.4" cy="953" r="12.5"/><circle cx="2405.1" cy="845.7" r="12.5"/><circle cx="2406.2" cy="925.3" r="12.5"/>
<circle cx="2407.4" cy="909.5" r="12.5"/><circle cx="2408.6" cy="864.3" r="12.5"/><circle cx="2409.8" cy="910" r="12.5"/><circle cx="2410.9" cy="878.8" r="12.5"/><circle cx="2412.1" cy="961.7" r="12.5"/><circle cx="2413.3" cy="964.4" r="12.5"/>
<circle cx="2414.5" cy="942.7" r="12.5"/><circle cx="2415.4" cy="765.9" r="12.5"/><circle cx="2416.4" cy="1024.4" r="12.5"/><circle cx="2418" cy="813.9" r="12.5"/><circle cx="2419.2" cy="855.5" r="12.5"/><circle cx="2420.3" cy="880.9" r="12.5"/>
<circle cx="2421.5" cy="857.5" r="12.5"/><circle cx="2422.2" cy="746.3" r="12.5"/><circle cx="2423.9" cy="908.4" r="12.5"/><circle cx="2425" cy="877.5" r="12.5"/><circle cx="2426.2" cy="914.1" r="12.5"/><circle cx="2427.4" cy="962.3" r="12.5"/>
<circle cx="2428.7" cy="804.2" r="12.5"/><circle cx="2429.7" cy="862" r="12.5"/><circle cx="2430.9" cy="871.9" r="12.5"/><circle cx="2432.1" cy="821.5" r="12.5"/><circle cx="2433.3" cy="838" r="12.5"/><circle cx="2434.5" cy="829.5" r="12.5"/>
<circle cx="2435.6" cy="951.4" r="12.5"/><circle cx="2436.4" cy="796.4" r="12.5"/><circle cx="2438" cy="889.8" r="12.5"/><circle cx="2439.1" cy="835.9" r="12.5"/><circle cx="2440.3" cy="874.6" r="12.5"/><circle cx="2441.3" cy="778.9" r="12.5"/>
<circle cx="2443.2" cy="1003.6" r="12.5"/><circle cx="2443.8" cy="859" r="12.5"/><circle cx="2445" cy="855.9" r="12.5"/><circle cx="2446.2" cy="884" r="12.5"/><circle cx="2447.4" cy="937.5" r="12.5"/><circle cx="2449.4" cy="946.2" r="12.5"/>
<circle cx="2450" cy="1000.3" r="12.5"/><circle cx="2451.4" cy="782.8" r="12.5"/><circle cx="2452.1" cy="842.5" r="12.5"/><circle cx="2453.2" cy="905.4" r="12.5"/><circle cx="2454.5" cy="768.3" r="12.5"/><circle cx="2455.6" cy="943.8" r="12.5"/>
<circle cx="2456.8" cy="846.4" r="12.5"/><circle cx="2457.9" cy="881.1" r="12.5"/><circle cx="2459.1" cy="813.2" r="12.5"/><circle cx="2460.3" cy="847.5" r="12.5"/><circle cx="2461.5" cy="849.4" r="12.5"/><circle cx="2462.6" cy="895.3" r="12.5"/>
<circle cx="2463.8" cy="863.8" r="12.5"/><circle cx="2465" cy="914.7" r="12.5"/><circle cx="2466.5" cy="970.5" r="12.5"/><circle cx="2467.3" cy="809.1" r="12.5"/><circle cx="2468.5" cy="852.1" r="12.5"/><circle cx="2469.5" cy="802.8" r="12.5"/>
<circle cx="2471.4" cy="997.7" r="12.5"/><circle cx="2472" cy="814" r="12.5"/><circle cx="2473.2" cy="843.9" r="12.5"/><circle cx="2474.4" cy="966.6" r="12.5"/><circle cx="2475.5" cy="836.2" r="12.5"/><circle cx="2476.7" cy="919" r="12.5"/>
<circle cx="2477.9" cy="866.7" r="12.5"/><circle cx="2479.1" cy="882.5" r="12.5"/><circle cx="2480.2" cy="850" r="12.5"/><circle cx="2481.4" cy="882.7" r="12.5"/><circle cx="2482.6" cy="819.2" r="12.5"/><circle cx="2485" cy="793.5" r="12.5"/>
<circle cx="2485" cy="973.4" r="12.5"/><circle cx="2486.1" cy="824.4" r="12.5"/><circle cx="2487.3" cy="889.4" r="12.5"/><circle cx="2487.9" cy="816.8" r="12.5"/><circle cx="2490.4" cy="1023.4" r="12.5"/><circle cx="2491.2" cy="1068.5" r="12.5"/>
<circle cx="2492" cy="921.1" r="12.5"/><circle cx="2493.2" cy="936.6" r="12.5"/><circle cx="2494.7" cy="1001.6" r="12.5"/><circle cx="2495.5" cy="951.2" r="12.5"/><circle cx="2496.7" cy="928.5" r="12.5"/><circle cx="2497.9" cy="892.4" r="12.5"/>
<circle cx="2499" cy="935.8" r="12.5"/><circle cx="2500.2" cy="870.5" r="12.5"/><circle cx="2501.4" cy="952.4" r="12.5"/><circle cx="2502.5" cy="998.7" r="12.5"/><circle cx="2503.7" cy="940.3" r="12.5"/><circle cx="2505.4" cy="989" r="12.5"/>
<circle cx="2506.1" cy="922.9" r="12.5"/><circle cx="2507.4" cy="763.2" r="12.5"/><circle cx="2508.3" cy="970.5" r="12.5"/><circle cx="2509.6" cy="835.6" r="12.5"/><circle cx="2510.8" cy="944.3" r="12.5"/><circle cx="2512.2" cy="790.2" r="12.5"/>
<circle cx="2513.1" cy="898.1" r="12.5"/><circle cx="2514.3" cy="880.3" r="12.5"/><circle cx="2515.5" cy="887" r="12.5"/><circle cx="2516.5" cy="1033.3" r="12.5"/><circle cx="2517.8" cy="891.9" r="12.5"/><circle cx="2519" cy="908.5" r="12.5"/>
<circle cx="2520.2" cy="964.5" r="12.5"/><circle cx="2521.4" cy="905.5" r="12.5"/><circle cx="2522.5" cy="932.6" r="12.5"/><circle cx="2523.7" cy="861.1" r="12.5"/><circle cx="2524.8" cy="973.4" r="12.5"/><circle cx="2526.1" cy="872.2" r="12.5"/>
<circle cx="2527.2" cy="942.4" r="12.5"/><circle cx="2528.4" cy="939.7" r="12.5"/><circle cx="2529.6" cy="901.9" r="12.5"/><circle cx="2530.8" cy="862.8" r="12.5"/><circle cx="2531.6" cy="793.5" r="12.5"/><circle cx="2533.1" cy="822.7" r="12.5"/>
<circle cx="2534.3" cy="914.7" r="12.5"/><circle cx="2535.5" cy="845.8" r="12.5"/><circle cx="2536.5" cy="706.5" r="12.5"/><circle cx="2537.5" cy="766.3" r="12.5"/><circle cx="2537.5" cy="997.7" r="12.5"/><circle cx="2539.4" cy="971.5" r="12.5"/>
<circle cx="2541.3" cy="864.2" r="12.5"/><circle cx="2542.5" cy="782.7" r="12.5"/><circle cx="2543.7" cy="841.6" r="12.5"/><circle cx="2544.4" cy="998.3" r="12.5"/><circle cx="2546" cy="871.3" r="12.5"/><circle cx="2547.2" cy="897.9" r="12.5"/>
<circle cx="2548.4" cy="922.5" r="12.5"/><circle cx="2549.5" cy="862.3" r="12.5"/><circle cx="2550.7" cy="886.1" r="12.5"/><circle cx="2551.9" cy="897.8" r="12.5"/><circle cx="2553.1" cy="905.9" r="12.5"/><circle cx="2554.2" cy="867.7" r="12.5"/>
<circle cx="2555.4" cy="866.6" r="12.5"/><circle cx="2556.6" cy="925.2" r="12.5"/><circle cx="2557.6" cy="812.6" r="12.5"/><circle cx="2559.3" cy="1049.2" r="12.5"/><circle cx="2560.1" cy="867.3" r="12.5"/><circle cx="2561.3" cy="933.7" r="12.5"/>
<circle cx="2562.5" cy="920.4" r="12.5"/><circle cx="2563.6" cy="917.5" r="12.5"/><circle cx="2564.4" cy="834.3" r="12.5"/><circle cx="2566.3" cy="966.6" r="12.5"/><circle cx="2567.2" cy="846.2" r="12.5"/><circle cx="2568.3" cy="809.1" r="12.5"/>
<circle cx="2569.5" cy="877.9" r="12.5"/><circle cx="2570.7" cy="929" r="12.5"/><circle cx="2571.9" cy="874.7" r="12.5"/><circle cx="2573" cy="967.8" r="12.5"/><circle cx="2574.2" cy="931.6" r="12.5"/><circle cx="2575.4" cy="930.6" r="12.5"/>
<circle cx="2576" cy="832.4" r="12.5"/><circle cx="2577.7" cy="964.6" r="12.5"/><circle cx="2578.9" cy="869.6" r="12.5"/><circle cx="2580.1" cy="874.4" r="12.5"/><circle cx="2581.5" cy="754.3" r="12.5"/><circle cx="2582.4" cy="902.3" r="12.5"/>
<circle cx="2583.6" cy="895.4" r="12.5"/><circle cx="2584.8" cy="913.2" r="12.5"/><circle cx="2586.1" cy="962.8" r="12.5"/><circle cx="2587.7" cy="840.2" r="12.5"/><circle cx="2588.3" cy="886" r="12.5"/><circle cx="2590" cy="799.3" r="12.5"/>
<circle cx="2590.7" cy="808.8" r="12.5"/><circle cx="2591.8" cy="770.4" r="12.5"/><circle cx="2593" cy="916.8" r="12.5"/><circle cx="2594.2" cy="855.9" r="12.5"/><circle cx="2595.4" cy="941" r="12.5"/><circle cx="2596.5" cy="907.8" r="12.5"/>
<circle cx="2597.7" cy="882.2" r="12.5"/><circle cx="2599.3" cy="1074.1" r="12.5"/><circle cx="2600.1" cy="842.7" r="12.5"/><circle cx="2601.2" cy="968.4" r="12.5"/><circle cx="2602.8" cy="1049.2" r="12.5"/><circle cx="2603.6" cy="913.1" r="12.5"/>
<circle cx="2605.2" cy="1031.2" r="12.5"/><circle cx="2605.9" cy="891.4" r="12.5"/><circle cx="2607.1" cy="958" r="12.5"/><circle cx="2609.1" cy="863.5" r="12.5"/><circle cx="2610" cy="819.8" r="12.5"/><circle cx="2611" cy="746.5" r="12.5"/>
<circle cx="2611.8" cy="933.8" r="12.5"/><circle cx="2613" cy="864.7" r="12.5"/><circle cx="2614.2" cy="844.3" r="12.5"/><circle cx="2615.3" cy="898.8" r="12.5"/><circle cx="2616.5" cy="923.7" r="12.5"/>
</g>
<g clip-path="url(#cm)"><path d="M268.5 1204 L269.7 1146.1 L270 1130 L270.8 1155.5 L271 1160 L272 1084.9 L272.5 1050 L273.2 1077.9 L273.5 1090 L274.4 1031.8 L275 990 L275.5 1008.3 L276.5 1040 L276.7 1026.7 L277.9 956.2 L278 950 L279.1 985.7 L279.5 1000 L280.2 965.2 L281 930 L281.4 941.2 L282.5 970 L282.6 965.3 L283.5 921 L283.8 928.3 L284.9 960 L285.5 975 L286.1 958.5 L287 935 L287.3 943.1 L288.5 975.4 L289 990 L289.6 977.1 L290.5 960 L290.8 972.7 L292 1019.7 L293 1060 L293.2 1057.8 L294.3 1042.1 L294.5 1040 L295.5 1075 L296.3 1102 L296.7 1094.5 L297.9 1071.9 L299 1050 L299 1050.8 L300.2 1061.6 L300.5 1080 L301.4 1052.7 L302.6 985 L303 960 L303.7 964.7 L304.5 990 L304.9 965.5 L306.1 948.6 L307 890 L307.3 986.8 L308.3 920 L308.4 908.2 L309.6 899.4 L309.8 860 L310.8 927.6 L312 904.6 L313.1 921 L313.4 969 L314.3 938 L315.5 841.7 L316.7 857 L317.8 867.1 L319 840 L319 889.1 L320.2 873.6 L321.4 859.5 L322 900 L322.5 854.5 L323.7 870.6 L324.9 896.6 L326.1 841.5 L327.2 819 L328.4 798.9 L329.6 795.6 L329.7 746 L330.8 760.4 L331.9 835.5 L333.1 863.2 L334.3 847.1 L335.5 864.9 L336.6 892.9 L337.2 908 L337.8 901.9 L339 889.9 L340.1 846.4 L341.3 899.5 L342.5 824.9 L343.7 859.4 L344.8 830.7 L346 798.2 L347.2 816.4 L348.1 797 L348.4 843.8 L349.5 814 L350.7 849.1 L351.9 954.3 L353 955 L353.1 953.6 L354.2 958.6 L355.4 961.1 L356.6 961.7 L357.8 958.4 L358.9 965 L360 965 L360.1 961.1 L361.3 924 L362.5 878 L363.6 837.8 L364.8 888 L365.4 820.6 L366 858.4 L367.2 900 L368.3 828.3 L369.5 878.9 L370.7 957.8 L371 970 L371.9 800.5 L373 791.9 L374 791.6 L374.2 793.5 L375.4 788.5 L376.6 789.8 L377.7 789.3 L378.9 789.7 L380.1 791.6 L381.3 791.6 L381.8 788.5 L382.4 793.1 L383.6 869.3 L384.8 922.1 L386 828.9 L387.1 947 L388.3 999 L389.5 984.8 L390.7 1004.7 L391.3 1020.4 L391.8 1008.1 L393 981 L394.2 1011 L395.4 1010.5 L396.5 921.7 L397.7 944.9 L398.9 903.9 L400.1 818.4 L401.2 786.5 L402.4 729.9 L403.6 737.1 L404 727.4 L404.8 736.1 L405.9 774.8 L407.1 803.6 L408.3 832.5 L409.5 816.3 L410.6 804.6 L411.8 977 L413 1023.2 L414.1 976.9 L415.3 1043 L416.5 1034.7 L417 1047 L417.7 1038.5 L418.8 1023.7 L420 1031.1 L421.2 1014.6 L422.4 1013.5 L423.5 926.7 L424.7 990.3 L425.9 921.5 L427.1 919.7 L428.2 904.9 L429.4 896.2 L430 883.1 L430.6 885.4 L431.8 892.7 L432.9 890.7 L434.1 893.4 L434.2 900.5 L435.3 898.2 L436.5 894.3 L437.6 890.1 L438.8 891.4 L440 876.5 L441.2 861.6 L442.3 866.7 L443.5 861.8 L444.7 856.9 L445.9 852 L447 847.1 L448.2 842.2 L448.5 841.1 L449.4 842.5 L450.6 861.6 L451.7 865.5 L452.9 877.9 L454.1 858.6 L455.3 896.7 L456.4 892 L457.6 898.4 L457.7 899.1 L458.8 894.6 L460 889.6 L461.1 881.5 L462.3 890.4 L463.5 859 L464.7 854.6 L465.8 864.8 L467 855.4 L468.2 854.9 L468.4 853.9 L469.4 859.2 L470.5 865.7 L471.7 872.2 L472.9 866.8 L474.1 874.7 L475.2 880.5 L476.4 900.1 L477.6 904.7 L478.8 911.1 L479.8 916.9 L479.9 916.2 L481.1 910.3 L482.3 904.4 L483.4 883.4 L484.6 888.9 L485.8 896.5 L487 870 L488.1 874.9 L489.3 868.9 L490.5 863.2 L490.5 863.4 L491.7 869.9 L492.8 885.7 L494 872.2 L495.2 905.3 L496.4 896.4 L497.5 923.5 L498.7 921.1 L499.9 920.7 L500.4 924 L501.1 921.4 L502.2 916.6 L503.4 911.8 L504.6 907.8 L505.8 892.7 L506.9 908.8 L508.1 891.2 L509.3 887.8 L510.5 883 L511.6 877.4 L511.8 877.4 L512.8 876 L514 874.4 L515.2 873.2 L516.3 871.2 L517.5 870.6 L518.7 869.7 L519.9 861.7 L521 864.6 L522.2 863 L523.4 861.4 L524.6 862.8 L524.6 859.6 L525.7 862.4 L526.9 859.6 L528.1 861.8 L529.3 863 L530.4 872.6 L531.6 867.8 L532.5 872.6 L532.8 872.4 L534 869.4 L535.1 872.6 L536.3 868.3 L537.5 872.5 L538.7 868.8 L539.8 868.7 L541 868.3 L541 874.8 L542.2 869 L543.4 877 L544.5 878.7 L545.7 874 L546.9 877.5 L548.1 878.3 L548.1 885.4 L549.2 885.4 L550.4 885.4 L551.6 890.2 L552.8 885.8 L553.8 888.3 L553.9 886.8 L555.1 888.1 L556.3 890.7 L557.4 893.9 L558.6 894 L559.5 894 L559.8 887.3 L561 893.1 L562.1 889 L563.3 888.5 L563.8 885.4 L564.5 883.3 L565.7 885 L566.8 882.9 L568 876.4 L569.2 880.6 L570.4 884.9 L570.9 876.2 L571.5 880.1 L572.7 876.2 L573.9 882.5 L575.1 891.1 L575.2 891.1 L576.2 890.1 L577.4 901.5 L578.6 897.6 L579.8 899.5 L580.9 903.9 L580.9 903.2 L582.1 901.4 L583.3 901.8 L584.5 887.4 L585.1 888.3 L585.6 882.7 L586.8 886.1 L588 889.7 L589.2 887.1 L590.3 886.3 L590.8 880.4 L591.5 886.1 L592.7 913.6 L593.9 887.8 L595 914.2 L595.8 931.8 L596.2 931.8 L597.4 919.4 L598.6 910.3 L599.7 925.1 L600.9 895.6 L602.1 887.2 L603.3 907.3 L604.4 890.4 L605.6 884.8 L606.8 871 L608 873.5 L608.6 870.3 L609.1 872.2 L610.3 883.7 L611.5 871.9 L612.7 893.5 L613.8 878.9 L615 899.8 L616.2 895.9 L617.4 890 L617.9 904.1 L618.5 883.2 L619.7 882 L620.9 857.8 L622.1 885.8 L623.2 877.3 L624.3 856.8 L624.4 856.8 L625.6 858.1 L626.7 860.4 L627.9 860 L629.1 860.1 L630.3 859.8 L631.4 862 L632.1 861.8 L632.6 863.7 L633.8 901.4 L635 865.8 L636.1 902 L636.4 906.2 L637.3 899.1 L638.5 892.4 L639.7 867.2 L640.8 891.5 L642 864.6 L643.2 855.2 L644.4 867.7 L645.5 854.9 L646.3 850.4 L646.7 852 L647.9 857.3 L649.1 859.7 L650.2 867.8 L651.4 866.1 L652.6 878.3 L653.8 883.6 L654.9 888.8 L656.1 894.1 L657.3 913.4 L658.5 915.9 L659.6 908.7 L660.8 912 L662 915.4 L662 920.4 L663.2 913.6 L664.3 899 L665.5 899.7 L666.7 907.2 L667 897.4 L667.9 900.2 L669 904.4 L670.2 910.9 L671.4 913.3 L672.6 905.7 L673.7 908.8 L674.8 914.8 L674.9 912 L676.1 903.4 L677.3 912.6 L678.4 892.3 L679.6 879.1 L680.8 875.1 L682 874.6 L683.1 874.6 L684.1 874.6 L684.3 874.6 L685.5 874.1 L686.7 874.1 L687.8 871.6 L689 869.8 L690.2 868.6 L691.4 869.1 L692.5 868.1 L693.3 867.5 L693.7 868.4 L694.9 871.1 L696 867.5 L697.2 871.7 L698.4 871.5 L699.6 877.2 L700.7 884.2 L701.9 887.9 L703.1 891.1 L703.3 891.1 L704.3 893.1 L705.4 891.1 L706.6 894 L707.8 899.4 L709 904 L710.1 905.3 L711.3 907.7 L712.5 911.6 L713.7 912.6 L714.8 915 L716 917.4 L716.1 917.6 L717.2 912.9 L718.4 907.7 L719.5 902.6 L720.7 900.6 L721.9 892.5 L723.1 872.2 L724.2 875.4 L725.4 866.8 L726.6 871.9 L727.8 866.3 L728.9 861.8 L728.9 861.9 L730.1 864.7 L731.3 864.8 L732.5 873.2 L733.6 891 L734.8 907.1 L736 912.6 L737.2 912.7 L738.3 920 L739.5 927.3 L740.7 934.5 L741.9 941.8 L742.4 945.4 L743 943.1 L744.2 943.8 L745.4 944.1 L746.6 929.4 L747.7 924.8 L748.9 924.8 L750.1 917.8 L751.3 911.2 L752.4 903.6 L753.6 897.5 L754.8 897.5 L756 887.4 L757.1 888.4 L757.4 887.4 L758.3 886.7 L759.5 887.4 L760.7 883.8 L761.8 883.7 L763 883.8 L764.2 881.7 L765.4 881.3 L766.5 880.3 L767.4 880.3 L767.7 881.8 L768.9 922.7 L770 880.3 L771.2 910.8 L771.6 925.4 L772.4 923.2 L773.6 911.5 L774.7 913.1 L775.9 907.8 L777.1 876.2 L778.3 874.2 L779.4 878 L780.6 864.7 L781.8 869.8 L783 863.4 L783 863.2 L784.1 869.5 L785.3 870.1 L786.5 864.2 L787.7 908.6 L788.8 915.2 L790 901.9 L791.2 916.5 L792.4 915.3 L792.8 917.6 L793.5 915.4 L794.7 911.9 L795.9 913.6 L797.1 908.1 L798.2 901.5 L799.4 902.8 L800.6 905.2 L801.8 891 L802.9 879.3 L804.1 884 L805.3 875.3 L806.5 875.3 L807 875.3 L807.6 881 L808.8 878.5 L810 875.3 L811.2 885.6 L812.3 887.6 L813.5 879.4 L814.7 888.1 L815.6 888.3 L815.9 888.3 L817 888.3 L818.2 888.3 L819.4 889.8 L820.6 889 L821.7 887.7 L822.7 891.1 L822.9 891.1 L824.1 888.6 L825.3 888.2 L826.4 879.9 L827.6 872.9 L828.8 876.6 L829.1 867.5 L830 874.9 L831.1 865.8 L832.3 865.6 L833.5 863.5 L834.7 865.5 L835.8 866.9 L837 862.5 L838.2 862.9 L839.1 862.5 L839.3 863.3 L840.5 866.9 L841.7 866.2 L842.9 868.2 L844 880.6 L845.2 884.5 L846.4 894.8 L847.6 888.2 L848.7 891.8 L849.8 894.8 L849.9 894.2 L851.1 889.7 L852.3 885.3 L853.4 886.5 L854.6 867.7 L855.8 866 L857 860.2 L858.1 862.9 L859 859.6 L859.3 859.6 L860.5 859.2 L861.7 855.8 L862.8 850.8 L864 856.7 L865.2 854.7 L866.4 853.5 L866.6 850.4 L867.5 855.3 L868.7 851.1 L869.9 867.1 L871.1 874.2 L872.2 892.2 L873.4 873.2 L874.6 890.8 L875.8 896.7 L876.9 902.6 L878.1 899.3 L878.2 909.1 L879.3 895.7 L880.5 908.1 L881.6 890.3 L882.8 872.4 L884 877.1 L885.2 891.9 L885.3 872.4 L886.3 885.3 L887.5 884.8 L888.7 885.8 L889.9 904.6 L891 898.9 L892.2 888.5 L893.4 907.6 L893.9 907.6 L894.6 908.7 L895.7 907.6 L896.9 909.6 L898.1 916 L899.3 912.9 L900.4 918.4 L901.6 922.1 L902.8 922.3 L904 923 L905.1 926.1 L906 926.1 L906.3 924.5 L907.5 920.3 L908.7 926.1 L909.8 905.9 L911 917.9 L912.2 909.5 L913.3 869.4 L914.5 868.4 L915.7 875 L916.9 868.9 L918 862.7 L918.1 862.5 L919.2 863 L920.4 866.9 L921.6 876.4 L922.7 867.4 L923.9 882.2 L925.1 880.5 L926.3 877.4 L927.4 873.2 L928.1 884.9 L928.6 883.4 L929.8 866.8 L930.9 865.3 L931 871.1 L932.1 871.5 L933.3 866.2 L934.5 869.2 L935.7 866.5 L936.8 881.1 L938 876.9 L939.2 884.4 L940.4 893.2 L941.5 894.1 L942.7 891.9 L943.7 894.1 L943.9 893.7 L945.1 891.2 L946.2 888.2 L947.4 888.9 L948.6 879.5 L949.8 884.7 L950.9 881 L952.1 874.5 L953.3 871.7 L954.5 869 L955.1 867.5 L955.6 869.9 L956.8 875.2 L958 871.2 L959.2 878 L960.3 901.2 L961.5 897.7 L962.7 883.8 L963.9 909.4 L965 912.4 L966.2 917.7 L966.5 919 L967.4 914.6 L968.6 908.8 L969.7 902.9 L970.9 903.1 L972.1 898.2 L973.3 901.3 L974.4 867.2 L975.6 873.7 L976.8 863.3 L978 862 L979.1 854.8 L980 851.8 L980.3 852.8 L981.5 851.8 L982.6 854 L983.8 860.3 L985 869.8 L986.2 864.9 L987.3 878.3 L988.5 882.5 L989.7 886.7 L990.9 891 L992 895.2 L993.2 899.5 L994.4 903.7 L995.6 907.9 L996.7 918 L997.9 916.4 L999.1 921.5 L1000.3 926.5 L1001.4 929.1 L1002.6 933.4 L1002.8 934 L1003.8 928.5 L1005 930.8 L1006.1 919.6 L1007.3 909.1 L1008.5 909.2 L1009.7 884.5 L1010.8 889.7 L1012 883.3 L1013.2 876.8 L1014.4 866.1 L1015.5 862.1 L1016.3 859.6 L1016.7 860.9 L1017.9 864.6 L1019.1 868.3 L1020.2 867.8 L1021.4 882.5 L1022.6 880.3 L1023.8 875.9 L1024.9 886.8 L1026.1 894.3 L1027.3 894.2 L1027.7 895.5 L1028.5 889.3 L1029.6 891.4 L1030.8 888.9 L1032 880.3 L1033.2 877.6 L1034.3 883.9 L1035.5 883.9 L1036.2 870.3 L1036.7 870.3 L1037.9 870.3 L1039 870.3 L1040.2 871.8 L1040.5 870.3 L1041.4 886.5 L1042.6 877.2 L1043.7 895.8 L1044.9 885.7 L1046.1 886.2 L1047.3 893.3 L1047.6 901.9 L1048.4 892.2 L1049.6 897.6 L1050.8 895 L1051.9 900.1 L1053.1 889.8 L1054.3 888.9 L1055.5 886.5 L1056.6 882.1 L1057.8 876.5 L1059 871.6 L1060.2 873.8 L1061.3 867.8 L1062.5 869.2 L1063.3 867.5 L1063.7 868.2 L1064.9 870.4 L1066 872.6 L1067.2 874.8 L1068.4 875.1 L1069.6 871.2 L1070.7 881.3 L1071.9 883.5 L1073.1 885.7 L1074.3 890.1 L1075.4 897.2 L1076.6 893.6 L1077.8 900 L1079 900.8 L1080.1 898.9 L1081.3 901 L1081.8 901.9 L1082.5 901.9 L1083.7 895.2 L1084.8 891 L1086 899.6 L1087.2 882.5 L1088.4 878.3 L1089.5 874 L1090.7 869.8 L1091.9 865.5 L1093.1 861.3 L1094.2 857.1 L1095.4 852.8 L1096.6 848.6 L1097.8 844.4 L1098.9 825.8 L1100.1 828 L1101.3 819.8 L1102.5 820.8 L1103.6 823.2 L1104.6 819.8 L1104.8 820.6 L1106 825 L1107.2 821.7 L1108.3 829.6 L1109.5 838.2 L1110.7 840.1 L1111.9 846.9 L1113 851.3 L1114.2 855.7 L1115.4 860.1 L1116.6 864.5 L1117.7 868.9 L1118.9 873.2 L1120.1 877.6 L1121.3 882 L1122.4 897.8 L1123.6 890.8 L1124.8 903.6 L1125.9 902.5 L1127.1 904.2 L1127.4 904.8 L1128.3 903.1 L1129.5 902.7 L1130.6 899 L1131.8 901.1 L1133 898.9 L1134.2 897.3 L1135.3 894.6 L1136.5 888.6 L1137.7 883.5 L1138.9 883.7 L1140 880.9 L1141.2 880.3 L1142.4 878.2 L1143.6 875.5 L1144.4 874.6 L1144.7 875.4 L1145.9 876.3 L1147.1 881.8 L1148.3 884.9 L1149.4 885.6 L1150.6 890.9 L1151.8 894.5 L1153 897.7 L1154.1 900.8 L1155.3 904 L1156.5 907.2 L1157.7 910.4 L1158.8 913.6 L1160 917 L1161.2 920.3 L1162.4 924.3 L1163.5 926.1 L1163.5 925.9 L1164.7 920.2 L1165.9 914.5 L1167.1 910.7 L1168.2 903.1 L1169.4 888.4 L1170.6 904.3 L1171.8 872.5 L1172.9 880.3 L1174.1 874.6 L1175.3 866.9 L1176.3 863.9 L1176.5 874.9 L1177.6 867.8 L1178.8 876.3 L1180 866.9 L1181.2 882.1 L1182.3 880.2 L1183.5 892 L1184.1 893.4 L1184.7 891.9 L1185.9 888.6 L1187 890.1 L1188.2 882 L1189.4 876.7 L1190.6 870.2 L1191.7 880.8 L1192.9 866.4 L1194.1 859.6 L1195.2 862.4 L1196.2 859.6 L1196.4 860.7 L1197.6 867.4 L1198.8 861 L1199.9 874.3 L1201.1 895.3 L1202.3 896.1 L1203.5 912.3 L1204.6 916.3 L1205.8 904.1 L1206.9 920.4 L1207 895.2 L1208.2 910.3 L1209.3 915.2 L1210.5 889.1 L1211.2 873.9 L1211.7 881.4 L1212.9 884.4 L1214 880.2 L1215.2 885.7 L1216.4 910.5 L1217.6 922.8 L1218.7 910 L1219.9 922.8 L1221.1 929.4 L1221.1 929.7 L1222.3 928.4 L1223.4 929.7 L1224.6 918.7 L1225.8 924 L1227 920 L1228.1 907.5 L1229.3 903.7 L1230.5 900 L1231.7 896.2 L1232.8 892.5 L1234 888.8 L1235.2 885 L1236.4 881.3 L1237.5 877.6 L1238.7 869.3 L1239.9 870.1 L1241.1 866.3 L1242.2 862.6 L1242.5 861.8 L1243.4 865.9 L1244.6 866.7 L1245.8 877.7 L1246.9 894.3 L1248.1 889.9 L1249.3 898.6 L1250.5 887.9 L1251.6 906.5 L1252.8 915.9 L1253.9 917.6 L1254 917.6 L1255.2 917.6 L1256.3 917.4 L1257.5 917.6 L1258.7 916.9 L1259.9 916.9 L1261 916.9 L1262.2 917.1 L1263.4 916.9 L1264.6 916.9 L1265.3 916.9 L1265.7 902.1 L1266.9 896.7 L1268.1 910 L1269.2 905.5 L1270.4 908.4 L1271.6 898.4 L1271.7 879.6 L1272.8 881.8 L1273.9 885.8 L1275.1 885.3 L1276.3 888.9 L1277.5 895.5 L1278.6 898.7 L1279.8 901.9 L1281 909.6 L1282.2 911.6 L1283.3 911.6 L1284.5 917.3 L1285.7 918.1 L1286.9 921.3 L1287.3 922.6 L1288 918.4 L1289.2 919.5 L1290.4 898.1 L1291.6 917.4 L1292.7 873.8 L1293.9 880.7 L1295.1 870 L1296.3 891 L1297.4 882.8 L1298 858.9 L1298.6 860.5 L1299.8 889.7 L1301 869.1 L1302.1 885.9 L1302.3 892 L1303.3 889.8 L1304.5 872.7 L1305.7 884.6 L1306.8 871 L1308 880.9 L1309.2 871.1 L1310.4 864.8 L1310.8 864.6 L1311.5 878.3 L1312.7 886.2 L1313.9 867.7 L1315.1 870.8 L1316.2 882.4 L1317.2 895.5 L1317.4 886.1 L1318.6 883.5 L1319.8 891.2 L1320.9 895.5 L1322.1 874.7 L1323.3 873.6 L1324.5 876.3 L1325.1 866.8 L1325.6 867.8 L1326.8 869 L1328 871.9 L1329.2 880 L1330.3 872.7 L1331.5 872.8 L1332.7 877.1 L1333.9 882.6 L1335 881.2 L1335 884.9 L1336.2 877.3 L1337.4 871 L1338.5 871 L1339.3 871 L1339.7 870.4 L1340.9 874.4 L1342.1 867.2 L1343.2 865.8 L1344.4 864.5 L1345.6 865.6 L1346.8 863.2 L1347.9 852.5 L1349.1 856.8 L1350.3 855.1 L1351.5 853.4 L1352.1 852.5 L1352.6 852.9 L1353.8 858.3 L1355 854.3 L1356.2 853.5 L1357.3 870.2 L1358.5 867.5 L1359.7 867.9 L1360.9 882 L1362 886 L1363.2 890 L1364.4 893.9 L1365.6 897.9 L1366.7 901.9 L1367.9 905.8 L1369.1 909.8 L1370.3 913.7 L1371.4 929.1 L1372.6 929.1 L1373.8 926.7 L1375 930.1 L1376.1 934.4 L1377.3 935.6 L1377.7 939 L1378.5 939 L1379.7 935.4 L1380.8 937.4 L1382 937.9 L1383.2 936.3 L1384.4 935.4 L1384.9 935.4 L1385.5 936.7 L1386.7 928.3 L1387.9 925.7 L1389.1 919.3 L1390.2 914.8 L1391.4 900.4 L1392.6 914.3 L1393.8 890.5 L1394.9 894.9 L1396.1 892.4 L1397.3 887.9 L1398.5 883.4 L1399.1 881 L1399.6 882.9 L1400.8 885.1 L1402 891.2 L1403.2 883.5 L1404.3 886.2 L1405.5 902.9 L1406.7 909.7 L1407.8 911.9 L1409 908.6 L1410.2 911.3 L1410.5 921.2 L1411.4 915.5 L1412.5 920.1 L1413.7 918.1 L1414.9 903.4 L1416.1 904.5 L1416.2 891 L1417.2 890 L1418.4 896.7 L1419.6 884.2 L1420.8 884.8 L1421.9 887.1 L1423.1 889.8 L1424.3 881.7 L1425.5 882.3 L1426.1 881.7 L1426.6 882.7 L1427.8 884.9 L1429 885.6 L1430.2 887.1 L1431.3 886.1 L1432.5 897.1 L1433.7 896.8 L1434.9 898.3 L1436 900.5 L1437.2 902.8 L1437.5 903.4 L1438.4 901.7 L1439.6 903.4 L1440.7 903.4 L1441.9 903.4 L1443.1 895.1 L1444.3 896.2 L1445.4 897.7 L1446.1 894.1 L1446.6 891.5 L1447.8 892.4 L1449 891.7 L1450.1 876.2 L1451.3 881.9 L1452.5 854.8 L1453.7 847.9 L1454.8 852.4 L1456 846.8 L1456.7 843.3 L1457.2 845 L1458.4 853.9 L1459.5 857.2 L1460.7 866.9 L1461.9 877.7 L1463.1 880.3 L1464.2 871.7 L1465.4 877.9 L1466 880.6 L1466.6 880.6 L1467.8 876.8 L1468.9 879 L1470.1 841.1 L1471.3 870.4 L1472.4 841.1 L1472.5 843.4 L1473.6 843.1 L1474.8 842.6 L1476 846.5 L1477.2 842.5 L1478.3 848.7 L1479.5 848.4 L1480.7 850.7 L1481.7 851.8 L1481.8 885.6 L1483 882.8 L1484.2 878 L1484.5 886.3 L1485.4 885.6 L1486.5 870.2 L1487.7 867.4 L1488.9 868.5 L1490.1 866 L1491.2 872.1 L1492.4 868.6 L1493 860.3 L1493.6 861 L1494.8 860.3 L1495.9 864 L1497.1 860.7 L1498.3 867 L1499.5 867.3 L1500.6 863.3 L1501.8 874.6 L1503 874.4 L1504.2 874.6 L1504.4 874.6 L1505.3 878.2 L1506.5 882.8 L1507.7 887.1 L1508.9 905.6 L1510 896.9 L1511.2 894.5 L1512.4 917.5 L1513.6 910.7 L1514.7 915.4 L1515.7 919 L1515.9 911.2 L1517.1 919 L1518.3 913.9 L1519.4 906.9 L1520.6 901 L1521.8 895.9 L1523 902.9 L1523.5 895.9 L1524.1 903.5 L1525.3 912.7 L1526.5 913.6 L1527.7 912.8 L1528.8 915.2 L1529.9 919.7 L1530 911.6 L1531.2 911.5 L1532.4 910.4 L1533.5 896.6 L1534.7 910 L1535.9 904.1 L1537.1 881.6 L1538.2 883.3 L1539.4 883.8 L1540.6 880.9 L1541.3 876.7 L1541.8 885.3 L1542.9 879.8 L1544.1 874.3 L1545.3 880.5 L1546.5 880.2 L1547.6 883.7 L1548.4 894.1 L1548.8 851.8 L1549.8 851.8 L1550 860.7 L1551.1 835 L1552.3 853.3 L1553.5 845.3 L1554.7 831.2 L1555.8 831 L1557 837.8 L1558.2 822.8 L1559.1 819.8 L1559.4 821.6 L1560.5 823.9 L1561.7 838.9 L1562.9 824.6 L1564.1 844.1 L1565.2 864.4 L1566.4 870.7 L1567.6 875.1 L1568.3 877.6 L1568.8 877.6 L1569.9 941.9 L1571.1 935.7 L1572.3 938.7 L1573.3 942.5 L1573.5 905 L1574.6 928.8 L1575.8 921.5 L1577 937.1 L1578.2 931.3 L1579.3 920.5 L1580.5 902.2 L1581.7 904.8 L1582.9 888.4 L1584 894.9 L1585.2 889.6 L1586.4 882.4 L1586.8 882.4 L1587.6 879 L1588.7 878.4 L1589.9 880.1 L1591.1 881.4 L1592.3 869.1 L1593.4 875.6 L1594.6 868.9 L1595.4 868.2 L1595.8 868.2 L1597 867.2 L1598.1 867.4 L1599.3 866 L1600.5 867.6 L1601.7 866 L1602.8 866.7 L1603.9 866 L1604 866.4 L1605.2 867.6 L1606.4 871.9 L1607.5 883.9 L1608.7 891.8 L1609.9 902.1 L1611.1 891.1 L1612.2 904.3 L1613.4 909.7 L1613.9 911.9 L1614.6 911.4 L1615.8 899.9 L1616.9 911.3 L1618.1 897.9 L1619.3 893.8 L1620.4 894.6 L1621.6 893.8 L1622.4 893.8 L1622.8 894.9 L1624 898.3 L1625.1 901.7 L1626.3 907.3 L1627.5 902 L1628.7 919.7 L1629.8 918.5 L1631 922 L1632.2 922.2 L1633.4 925.6 L1633.8 926.9 L1634.5 910 L1635.7 921.8 L1636.9 923.1 L1638.1 913 L1639.2 902.1 L1640.4 878.1 L1641.6 904.4 L1642.4 877.4 L1642.8 877.4 L1643.9 875.4 L1645.1 873 L1646.3 871.5 L1647.5 869.9 L1648.6 868.2 L1649.8 867.5 L1651 863.7 L1652.2 861.8 L1653.3 855.2 L1654.5 858.1 L1655.7 856.2 L1656.9 854.4 L1658 852.5 L1658 852.6 L1659.2 855.6 L1660.4 856.4 L1661.6 870.1 L1662.7 865.7 L1663.9 872.9 L1665.1 895.3 L1666.3 893.5 L1667.4 901 L1668.6 905.2 L1669.8 911 L1671 916.9 L1672.1 922.7 L1672.3 923.3 L1673.3 917.7 L1674.5 911.5 L1675.7 915.8 L1676.8 911.8 L1678 874.7 L1679.2 888.9 L1680.4 880.3 L1681.5 874.1 L1682.7 855.4 L1683.9 861.7 L1685.1 863.5 L1685.1 855.4 L1686.2 867.6 L1687.4 863.7 L1688.6 880.2 L1689.8 878.5 L1690.9 878.3 L1692.1 874 L1692.2 886.3 L1693.3 884.3 L1694.4 883 L1695.6 879.9 L1696.8 872.1 L1698 872.8 L1699.1 870.7 L1700.3 860.3 L1701.4 856.8 L1701.5 856.9 L1702.7 857.4 L1703.8 860.2 L1705 861.3 L1706.2 866.4 L1707.4 868.1 L1708.5 870.5 L1709.7 871.1 L1710.9 871.7 L1712.1 871.7 L1712.1 871.7 L1713.2 871.7 L1714.4 872.8 L1715.6 873.5 L1716.8 893.3 L1717.9 894.5 L1719.1 885.6 L1720.3 910.4 L1721.5 905.3 L1722.6 909.6 L1723.5 912.6 L1723.8 910.7 L1725 905.4 L1726.2 911 L1727.3 891.1 L1728.5 883.3 L1729.7 871.8 L1730.9 870.7 L1732 861.1 L1732 861.1 L1733.2 865.2 L1734.4 883.1 L1735.6 880.8 L1736.7 893 L1737.9 899.9 L1739.1 902 L1740.3 900 L1741.4 904.8 L1742 908.3 L1742.6 896.3 L1743.8 886 L1745 897.4 L1746.1 904.6 L1747.3 871 L1748.5 881.6 L1749.1 871 L1749.7 883 L1750.8 868.9 L1752 867.9 L1753.2 869.8 L1754.4 865.1 L1755.5 869.1 L1756.7 857.6 L1757.9 857.2 L1759.1 858.9 L1760.2 855.4 L1761.4 856 L1761.9 855.4 L1762.6 857 L1763.7 856.2 L1764.9 864 L1766.1 862.3 L1767.3 859.9 L1768.4 881.1 L1769.6 872.5 L1770.8 878.4 L1771.9 881.3 L1772 881.1 L1773.1 878.2 L1774.3 866.8 L1775.5 877.2 L1776.7 861.2 L1777.8 867.1 L1779 870.3 L1780.2 860.6 L1781.2 858.2 L1781.4 858.2 L1782.5 863.2 L1783.7 862.1 L1784.9 877.4 L1786.1 881.3 L1787.2 887.5 L1788.4 875.5 L1789.6 890.9 L1790.8 893.6 L1791.8 897 L1791.9 896.7 L1793.1 886.1 L1794.3 892.1 L1795.5 881.7 L1796.6 878.8 L1797.8 889 L1799 877.1 L1800.2 878.7 L1801.1 876.7 L1801.3 878.1 L1802.5 878 L1803.7 890.6 L1804.9 891.9 L1806 899.8 L1807.2 895.5 L1808.4 895.3 L1809.6 921.8 L1810.7 928 L1811.9 937 L1813.1 940.5 L1813.2 941.1 L1814.3 941.1 L1815.4 932.8 L1816.6 928.5 L1817.8 934.1 L1819 919.9 L1820.1 928.9 L1821.3 898.6 L1822.5 907 L1823.7 900.9 L1824.8 898.3 L1826 894 L1827.2 889.7 L1827.4 888.8 L1828.4 890.8 L1829.5 895.3 L1830.7 897.4 L1831.9 902.6 L1833.1 906.3 L1834.2 909.9 L1835.4 913.5 L1836.6 917.2 L1837.7 922.4 L1838.9 927.1 L1840.1 929.2 L1841.3 931.7 L1842.4 935.4 L1843.6 941.5 L1844.8 942.6 L1845.2 943.9 L1846 939.1 L1847.1 931.5 L1848.3 923.9 L1849.5 926.7 L1850.7 928.9 L1851.8 911.8 L1853 891.3 L1854.2 886.1 L1855.4 878.5 L1856.5 860 L1857.7 863.4 L1858.7 856.8 L1858.9 857.2 L1860.1 860 L1861.2 862.9 L1862.4 859.7 L1863.6 868.6 L1864.8 863.3 L1865.9 874.3 L1867.1 883.3 L1868.3 880 L1869.5 884.4 L1870.6 893.4 L1871.8 891.1 L1873 891.5 L1874.2 894.3 L1874.9 896.2 L1875.3 895 L1876.5 891.1 L1877.7 887.3 L1878.9 888.1 L1880 879.5 L1881.2 880.4 L1882.4 872.4 L1883.6 867.2 L1884.7 864.1 L1885.9 852 L1887.1 853.4 L1888.3 852.5 L1888.5 851.8 L1889.4 854.7 L1890.6 862.4 L1891.8 868.2 L1893 893.5 L1894.1 892 L1895.3 896.1 L1896.5 891.6 L1897.7 908.5 L1898.8 903.2 L1900 909.1 L1900.6 911.9 L1901.2 909.3 L1902.4 908.9 L1903.5 891.4 L1904.7 884.6 L1905.9 876.5 L1907 894.5 L1908.2 878.1 L1909.4 862.1 L1909.8 861.8 L1910.6 861.8 L1911.7 860.3 L1912.9 857.7 L1914.1 861.4 L1915.3 857.1 L1916.4 859.5 L1917.6 860 L1918.4 856.8 L1918.8 858.6 L1920 857.9 L1921.1 868.4 L1922.3 873.4 L1923.5 874.7 L1924.7 892.5 L1925.8 897.2 L1927 895 L1928.2 898 L1929.4 902.9 L1930.5 907.8 L1931.2 910.5 L1931.7 909.5 L1932.9 907.3 L1934.1 908.3 L1935.2 908 L1936.4 907.6 L1937.6 891.7 L1938.8 891.7 L1939.9 892.3 L1941.1 914.2 L1941.1 891.7 L1942.3 908.5 L1943.5 894.1 L1944.6 902.7 L1945.4 921.2 L1945.8 921.2 L1947 921.2 L1948.2 920.9 L1949.3 921.2 L1950.5 921.2 L1951.7 918.2 L1952.5 919 L1952.9 901.7 L1954 908.2 L1955.2 918.6 L1956.4 909.2 L1957.6 888.8 L1958.7 886 L1959.6 886 L1959.9 885.5 L1961.1 883.1 L1962.3 885.9 L1963.4 878.4 L1964.6 876.1 L1965.8 873.7 L1967 868 L1968.1 865.9 L1969.3 860 L1970.5 859.3 L1971.7 861.2 L1972.8 859.6 L1974 857.3 L1974.6 856.1 L1975.2 856.1 L1976.3 858.6 L1977.5 863.2 L1978.7 867.6 L1979.9 864.8 L1981 873.1 L1982.2 880.1 L1983.4 883.8 L1984.6 894.2 L1985.7 891.4 L1986.9 894.9 L1988.1 904.6 L1989.3 904.8 L1990.4 906 L1991 907.6 L1991.6 906 L1992.8 905.5 L1994 902.2 L1995.1 894.4 L1996.3 885.8 L1997.5 897.1 L1998.7 898.2 L1999.8 884.4 L2000.9 883.1 L2001 883.1 L2002.2 886.5 L2003.4 884.2 L2004.5 892.8 L2005.7 886.1 L2006.9 905.6 L2008.1 910.2 L2009.2 905.5 L2010.4 917.2 L2011.6 912.8 L2012.8 909.5 L2013.7 917.6 L2013.9 915 L2015.1 916.8 L2016.3 913.3 L2017.5 911.6 L2018 905.9 L2018.6 911.1 L2019.8 915.6 L2021 907.2 L2022.2 914.3 L2023.3 922.6 L2023.7 923.3 L2024.5 919.8 L2025.7 917 L2026.9 909.6 L2028 908 L2029.2 907 L2030.4 879.9 L2031.6 898.3 L2032.7 879.2 L2033.9 874.4 L2035.1 874 L2035.1 873.9 L2036.3 871.5 L2037.4 871.9 L2038.6 870.2 L2039.8 869.3 L2041 855.2 L2042.1 852.3 L2043.3 857 L2044.5 854.6 L2045.7 851.6 L2046.8 849.8 L2047.9 847.5 L2048 848.2 L2049.2 857.5 L2050.3 866.8 L2051.5 850.6 L2052.7 886.1 L2053.9 905.3 L2055 892.9 L2056.2 913.2 L2057.4 922.5 L2058.6 935.5 L2059.3 937.5 L2059.7 935.5 L2060.9 930.1 L2062.1 931.9 L2063.3 929.3 L2064.4 924.7 L2065.6 913.9 L2066.8 903.4 L2068 898 L2069.1 892.7 L2070.3 887.3 L2071.5 882 L2072.7 876.5 L2073.8 871.3 L2075 865.9 L2076.2 856.1 L2077.4 855.2 L2077.8 853.2 L2078.5 857.9 L2079.7 853.2 L2080.9 872.8 L2082.1 880.3 L2083.2 870.4 L2084.4 889.5 L2085.6 884.9 L2086.8 910.2 L2087.9 919.4 L2089.1 925.1 L2090.3 932.6 L2090.6 934.7 L2091.5 931.7 L2092.6 929.9 L2093.8 933.3 L2095 922.6 L2096.2 914.9 L2097.3 920.4 L2098.5 913.3 L2099.7 902.7 L2100.9 894.5 L2102 894.5 L2102 894.5 L2103.2 892 L2104.4 889.5 L2105.6 887 L2106.7 884.5 L2107.9 882.5 L2109.1 884.7 L2110.3 876.5 L2111.4 871.1 L2112.6 868.7 L2113.8 869.7 L2114.8 867.5 L2115 867.8 L2116.1 867.5 L2117.3 872.5 L2118.5 870.5 L2119.6 887.1 L2120.8 890.6 L2122 882.4 L2123.2 892.8 L2124.3 875.9 L2124.8 894.1 L2125.5 893.9 L2126.7 873 L2127.9 874.3 L2129 857.5 L2129.8 857.5 L2130.2 865.7 L2131.4 866.3 L2132.6 867.1 L2133.7 871.4 L2134.9 870.5 L2136.1 885.5 L2137.3 876.2 L2138.4 886.2 L2139.6 890.8 L2140.8 885.3 L2141.9 899.8 L2142 897.2 L2143.1 893.2 L2144.3 888.7 L2144.7 883.1 L2145.5 894.7 L2146.7 892.3 L2147.8 891.1 L2149 898.1 L2150.2 895.1 L2150.4 899.8 L2151.4 899.8 L2152.5 896 L2153.7 891.6 L2154.9 888.8 L2156.1 886 L2157.2 884.8 L2158.4 880 L2159.6 877.1 L2160.8 867.6 L2161.9 868.9 L2163.1 867.9 L2164.3 863.1 L2165.5 862.6 L2166.1 861.1 L2166.6 863.1 L2167.8 866.8 L2169 870.8 L2170.2 875.9 L2171.3 890 L2172.5 893.6 L2173.7 890.8 L2174.9 895.3 L2176 897.3 L2177.2 901.5 L2178.4 893.1 L2178.9 907.6 L2179.6 890.3 L2180.7 871.5 L2181.9 896.3 L2183.1 874 L2184.3 862 L2185.4 871.4 L2186 855.4 L2186.6 873.6 L2187.8 863.9 L2189 857.4 L2190.1 876.6 L2191.3 885.2 L2192.5 895.3 L2193.6 897 L2194.8 899.8 L2196 904.9 L2197.2 911.7 L2198.1 913.3 L2198.3 901.2 L2199.5 913.3 L2200.7 891.3 L2201.7 886 L2201.9 889.1 L2203 897.9 L2204.2 887 L2205.4 893.9 L2206.6 895.9 L2207.7 911.6 L2208.9 911.6 L2210.1 910.1 L2211.3 913.5 L2212.4 916.9 L2213.6 924.7 L2214.8 923.6 L2215.2 924.7 L2216 924.7 L2217.1 924.6 L2218.3 924.7 L2219.5 924.5 L2220.7 924.3 L2221.8 924 L2223 924.1 L2224.2 924.2 L2225.4 924.1 L2226.5 924 L2227.7 924 L2227.8 924 L2228.9 923.8 L2230.1 912.8 L2231.2 915.2 L2232.4 898.9 L2233.6 892.5 L2234.8 867 L2235.9 871.4 L2237.1 873.2 L2238.3 866.8 L2239.5 860.4 L2240.6 848.4 L2241.8 846.6 L2242.1 846.1 L2243 846.1 L2244.2 847.5 L2245.3 847.4 L2246.5 846.1 L2247.7 847.5 L2248.9 846.1 L2250 847.5 L2250.6 847.5 L2251.2 849.8 L2252.4 847.5 L2253.6 847.6 L2254.7 849.5 L2255.9 853.2 L2257.1 849.4 L2258.3 853.2 L2258.4 853.2 L2259.4 857.4 L2260.6 856.1 L2261.8 853.2 L2262.9 864 L2264.1 883.9 L2265.3 869.1 L2266.5 889.2 L2267.6 893.4 L2268.4 895.5 L2268.8 894.6 L2270 892 L2271.2 895.5 L2272.3 888.7 L2273.5 883.1 L2274.7 888.4 L2275.9 878.1 L2277 876.6 L2278.2 874 L2279.4 871.5 L2280.6 868.9 L2281.2 867.5 L2281.7 870.9 L2282.9 877.9 L2284.1 867.5 L2285.3 897.1 L2286.4 920.6 L2287.6 887.2 L2288.8 908.3 L2290 923.5 L2291.1 933 L2292.3 938.5 L2292.6 940.4 L2293.5 940.4 L2294.7 936.3 L2295.8 938.8 L2297 937.8 L2298.2 940.4 L2299.4 933.3 L2300.5 935.6 L2301.1 933.3 L2301.7 931.9 L2302.9 933.3 L2304.1 918.8 L2305.2 912.5 L2306.4 862 L2307.6 860.3 L2308.8 880.2 L2309.7 860.3 L2309.9 860.3 L2311.1 859 L2312.3 858.4 L2313.5 857.5 L2314.6 858.7 L2315.8 860.3 L2316.8 857.5 L2317 860.3 L2318.2 862 L2319.3 857.5 L2320.5 858 L2321.7 873.6 L2322.9 869 L2324 889.6 L2325.2 886.1 L2326.4 890.1 L2327.6 894.5 L2328.2 896.2 L2328.7 897.1 L2329.9 899.1 L2331.1 901 L2332.2 901.6 L2333.4 903.8 L2334.6 910.1 L2335.8 913 L2336.9 915.7 L2338.1 913 L2339.3 914.6 L2340.5 916.5 L2341.6 918.4 L2342.4 919.7 L2342.8 918.2 L2344 915.4 L2345.2 919.2 L2346.3 893 L2347.5 913.8 L2348.7 892.4 L2349.9 888.4 L2351 878.9 L2352.2 876.8 L2353.4 874.8 L2353.8 874.6 L2354.6 874.6 L2355.7 882.8 L2356.9 875.3 L2358.1 880.2 L2358.8 884.9 L2359.3 877.8 L2360.4 877.3 L2361.6 883.5 L2362.8 878.8 L2363.8 874.6 L2364 874.6 L2365.1 877.1 L2366.3 880.7 L2367.5 896.8 L2368.7 885.1 L2369.8 889.1 L2371 924 L2372.2 912.5 L2373.4 919.9 L2374.5 922.6 L2375.2 925.4 L2375.7 922.4 L2376.9 917.4 L2378.1 900.8 L2379.2 891.7 L2380.4 877.4 L2381.6 870.3 L2382.8 894.3 L2383.9 877 L2385.1 870.5 L2385.1 870.3 L2386.3 888 L2387.5 878.3 L2388.6 881.4 L2389.8 887.7 L2391 889.9 L2392.2 902.2 L2393.3 894.6 L2393.7 904.8 L2394.5 889.8 L2395.7 885.9 L2396.9 889.8 L2397.9 883.8 L2398 895.4 L2399.2 891.7 L2400.4 890.9 L2401.6 884.7 L2402.7 898.2 L2403.9 904.7 L2405.1 912.8 L2406.2 922 L2407.4 918.1 L2408.6 919.2 L2409.8 923.1 L2410 924 L2410.9 918 L2412.1 916.1 L2413.3 924 L2414.5 912.8 L2415.6 904.6 L2416.8 858 L2418 875 L2419.2 863.3 L2420.3 848.7 L2421.4 848.2 L2421.5 848.2 L2422.7 848.2 L2423.9 850.4 L2425 849.3 L2426.2 849.7 L2427.4 851.4 L2428.6 848.2 L2429.3 850.4 L2429.7 851.7 L2430.9 872.5 L2432.1 873.5 L2433.3 868.8 L2433.5 873.5 L2434.4 872.4 L2435.6 873.5 L2436.8 861.4 L2438 865.4 L2439.1 860.1 L2440.3 858.9 L2441.5 860.7 L2442.1 858.9 L2442.7 858.9 L2443.8 858.9 L2445 860 L2446.2 858.9 L2447.4 859.9 L2447.8 858.9 L2448.5 864.6 L2449.7 886.7 L2450.9 871.2 L2452 891.3 L2452.1 889.2 L2453.2 888.5 L2454.4 872.1 L2455.6 881.1 L2456.8 880 L2457.9 863 L2459.1 871.8 L2460.3 854.8 L2461.5 856 L2462 853.9 L2462.6 856.3 L2463.8 860.7 L2465 855.7 L2466.2 869.6 L2467.3 873.3 L2468.5 884.7 L2469.7 874.5 L2470.9 891 L2472 904.3 L2473.2 896.2 L2474.4 907.6 L2475.5 905 L2476.2 907.6 L2476.7 906.5 L2477.9 904.7 L2479.1 901.3 L2480.2 892.4 L2481.4 889.7 L2482.6 883.1 L2483.8 880.3 L2484.9 886.7 L2486.1 883.9 L2487.3 881.1 L2487.6 880.3 L2488.5 885.1 L2489.6 891.8 L2490.8 886.6 L2492 908.9 L2493.2 918.4 L2494.3 922.9 L2495.5 904.8 L2496.7 942.9 L2497.9 938.8 L2499 945.4 L2499 945.3 L2500.2 940.1 L2501.4 939.3 L2502.6 929.7 L2503.7 924.5 L2504.9 923.6 L2506.1 908 L2507.3 908.3 L2508.4 903.7 L2509.6 898.5 L2510.8 893.3 L2512 888.1 L2513.1 882.9 L2513.3 882.4 L2514.3 885.8 L2515.5 889.5 L2516.7 893.3 L2517.8 897 L2519 893.1 L2520.2 912.2 L2521.4 908.3 L2522.5 922 L2523.7 915.8 L2524.9 919.5 L2526.1 923.3 L2526.1 923.3 L2527.2 919 L2528.4 911.7 L2529.6 900.7 L2530.8 893.1 L2531.9 894 L2533.1 858.4 L2534.3 870.4 L2535.5 862.8 L2536.6 854.4 L2537.8 847.7 L2539 840.1 L2539.6 836.1 L2540.2 839.6 L2541.3 847 L2542.5 847.6 L2543.7 848.3 L2544.9 868.9 L2546 874.3 L2547.2 882.7 L2548.4 890.9 L2549.5 902.7 L2550.7 905.5 L2551.9 912.8 L2553.1 920.1 L2554.2 927.4 L2555.1 932.7 L2555.4 931.8 L2556.6 928.9 L2557.8 925.9 L2558.9 930 L2560.1 920 L2561.3 927 L2562.5 914.1 L2563.6 911.1 L2564.8 908.1 L2566 897.9 L2567.2 902.2 L2568.3 898.5 L2569.5 896.3 L2570.7 887.2 L2571.9 889.2 L2573 889.6 L2573.1 887.2 L2574.2 893.8 L2575.4 888.9 L2576.6 898.8 L2577.7 892.4 L2577.8 900.6 L2578.9 893.4 L2580.1 893.6 L2581.3 888.4 L2582.4 893.3 L2583.6 889.5 L2584.8 876.2 L2586 872 L2587.1 867.9 L2588.3 863.8 L2589.5 859.6 L2590.3 856.7 L2590.7 856.7 L2591.8 865.3 L2593 857.2 L2594.2 878.7 L2595.4 873.5 L2596.5 891.5 L2597.7 884 L2598.9 905.5 L2600.1 912.2 L2601.2 918.9 L2602.4 925.6 L2603.6 932.3 L2604.8 943.2 L2605.9 945.7 L2606 946 L2607.1 938.9 L2608.3 931.6 L2609.5 911.4 L2610.6 912.1 L2611.8 933.1 L2613 919.7 L2614.2 894.8 L2615.3 887.4 L2616.5 880.2 L2616.5 880.2" fill="none" stroke="#4477AA" stroke-width="12.5" stroke-linejoin="round" stroke-linecap="butt"/></g>
<g clip-path="url(#ch)" fill="#4477AA" fill-opacity="0.5" stroke="#000" stroke-opacity="0.5" stroke-width="4.17" stroke-linejoin="miter">
<rect x="2739.5" y="1511.1" width="0.9" height="27"/>
<rect x="2739.5" y="1484" width="0.9" height="27"/>
<rect x="2739.5" y="1376" width="0.9" height="27"/>
<rect x="2739.5" y="1349" width="3.8" height="27"/>
<rect x="2739.5" y="1294.9" width="2.8" height="27"/>
<rect x="2739.5" y="1267.9" width="1.9" height="27"/>
<rect x="2739.5" y="1240.9" width="0.9" height="27"/>
<rect x="2739.5" y="1213.9" width="5.6" height="27"/>
<rect x="2739.5" y="1186.9" width="2.8" height="27"/>
<rect x="2739.5" y="1159.8" width="1.9" height="27"/>
<rect x="2739.5" y="1132.8" width="1.9" height="27"/>
<rect x="2739.5" y="1105.8" width="2.8" height="27"/>
<rect x="2739.5" y="1078.8" width="11.3" height="27"/>
<rect x="2739.5" y="1051.8" width="9.4" height="27"/>
<rect x="2739.5" y="1024.8" width="24.4" height="27"/>
<rect x="2739.5" y="997.7" width="44.1" height="27"/>
<rect x="2739.5" y="970.7" width="87.2" height="27"/>
<rect x="2739.5" y="943.7" width="195.1" height="27"/>
<rect x="2739.5" y="916.7" width="223.2" height="27"/>
<rect x="2739.5" y="889.7" width="303.8" height="27"/>
<rect x="2739.5" y="862.7" width="272.9" height="27"/>
<rect x="2739.5" y="835.6" width="281.3" height="27"/>
<rect x="2739.5" y="808.6" width="172.6" height="27"/>
<rect x="2739.5" y="781.6" width="111.6" height="27"/>
<rect x="2739.5" y="754.6" width="51.6" height="27"/>
<rect x="2739.5" y="727.6" width="14.1" height="27"/>
<rect x="2739.5" y="700.6" width="5.6" height="27"/>
<rect x="2739.5" y="673.5" width="5.6" height="27"/>
<rect x="2739.5" y="646.5" width="2.8" height="27"/>
<rect x="2739.5" y="619.5" width="0.9" height="27"/>
<rect x="2739.5" y="592.5" width="2.8" height="27"/>
<rect x="2739.5" y="565.5" width="0.9" height="27"/>
<rect x="2739.5" y="538.5" width="3.8" height="27"/>
<rect x="2739.5" y="511.5" width="0.9" height="27"/>
<rect x="2739.5" y="484.4" width="0.9" height="27"/>
<rect x="2739.5" y="457.4" width="3.8" height="27"/>
<rect x="2739.5" y="430.4" width="0.9" height="27"/>
<rect x="2739.5" y="403.4" width="0.9" height="27"/>
<rect x="2739.5" y="322.3" width="0.9" height="27"/>
<rect x="2739.5" y="295.3" width="1.9" height="27"/>
</g>
<path d="M267.5 1551.3v-33.3M267.5 145.3v32.5M737.1 1551.3v-33.3M737.1 145.3v32.5M1206.7 1551.3v-33.3M1206.7 145.3v32.5M1676.3 1551.3v-33.3M1676.3 145.3v32.5M2145.9 1551.3v-33.3M2145.9 145.3v32.5M2615.5 1551.3v-33.3M2615.5 145.3v32.5M268.5 1550.6h32.5M2616.5 1550.6h-33.5M268.5 1374.8h32.5M2616.5 1374.8h-33.5M268.5 1199.1h32.5M2616.5 1199.1h-33.5M268.5 1023.3h32.5M2616.5 1023.3h-33.5M268.5 847.6h32.5M2616.5 847.6h-33.5M268.5 671.8h32.5M2616.5 671.8h-33.5M268.5 496.1h32.5M2616.5 496.1h-33.5M268.5 320.3h32.5M2616.5 320.3h-33.5M268.5 144.6h32.5M2616.5 144.6h-33.5" stroke="#000" stroke-width="2.4" fill="none"/>
<path d="M361.4 1551.3v-17.3M361.4 145.3v16.5M455.3 1551.3v-17.3M455.3 145.3v16.5M549.3 1551.3v-17.3M549.3 145.3v16.5M643.2 1551.3v-17.3M643.2 145.3v16.5M831 1551.3v-17.3M831 145.3v16.5M924.9 1551.3v-17.3M924.9 145.3v16.5M1018.9 1551.3v-17.3M1018.9 145.3v16.5M1112.8 1551.3v-17.3M1112.8 145.3v16.5M1300.6 1551.3v-17.3M1300.6 145.3v16.5M1394.5 1551.3v-17.3M1394.5 145.3v16.5M1488.5 1551.3v-17.3M1488.5 145.3v16.5M1582.4 1551.3v-17.3M1582.4 145.3v16.5M1770.2 1551.3v-17.3M1770.2 145.3v16.5M1864.1 1551.3v-17.3M1864.1 145.3v16.5M1958.1 1551.3v-17.3M1958.1 145.3v16.5M2052 1551.3v-17.3M2052 145.3v16.5M2239.8 1551.3v-17.3M2239.8 145.3v16.5M2333.7 1551.3v-17.3M2333.7 145.3v16.5M2427.7 1551.3v-17.3M2427.7 145.3v16.5M2521.6 1551.3v-17.3M2521.6 145.3v16.5M268.5 1515.4h16.5M2616.5 1515.4h-17.4M268.5 1480.3h16.5M2616.5 1480.3h-17.4M268.5 1445.1h16.5M2616.5 1445.1h-17.4M268.5 1410h16.5M2616.5 1410h-17.4M268.5 1339.7h16.5M2616.5 1339.7h-17.4M268.5 1304.5h16.5M2616.5 1304.5h-17.4M268.5 1269.4h16.5M2616.5 1269.4h-17.4M268.5 1234.2h16.5M2616.5 1234.2h-17.4M268.5 1164h16.5M2616.5 1164h-17.4M268.5 1128.8h16.5M2616.5 1128.8h-17.4M268.5 1093.6h16.5M2616.5 1093.6h-17.4M268.5 1058.5h16.5M2616.5 1058.5h-17.4M268.5 988.2h16.5M2616.5 988.2h-17.4M268.5 953h16.5M2616.5 953h-17.4M268.5 917.9h16.5M2616.5 917.9h-17.4M268.5 882.7h16.5M2616.5 882.7h-17.4M268.5 812.4h16.5M2616.5 812.4h-17.4M268.5 777.3h16.5M2616.5 777.3h-17.4M268.5 742.1h16.5M2616.5 742.1h-17.4M268.5 707h16.5M2616.5 707h-17.4M268.5 636.7h16.5M2616.5 636.7h-17.4M268.5 601.5h16.5M2616.5 601.5h-17.4M268.5 566.4h16.5M2616.5 566.4h-17.4M268.5 531.2h16.5M2616.5 531.2h-17.4M268.5 460.9h16.5M2616.5 460.9h-17.4M268.5 425.8h16.5M2616.5 425.8h-17.4M268.5 390.6h16.5M2616.5 390.6h-17.4M268.5 355.5h16.5M2616.5 355.5h-17.4M268.5 285.2h16.5M2616.5 285.2h-17.4M268.5 250.1h16.5M2616.5 250.1h-17.4M268.5 214.9h16.5M2616.5 214.9h-17.4M268.5 179.8h16.5M2616.5 179.8h-17.4" stroke="#000" stroke-width="2.2" fill="none"/>
<rect x="268.5" y="145.3" width="2348" height="1406" fill="none" stroke="#000" stroke-width="3.33" stroke-linejoin="miter"/>
<path d="M2738.5 1551.3v-33.3M2738.5 145.3v32.5M3207.4 1551.3v-33.3M3207.4 145.3v32.5M2739.5 1550.6h32.5M3208.4 1550.6h-33.5M2739.5 1374.8h32.5M3208.4 1374.8h-33.5M2739.5 1199.1h32.5M3208.4 1199.1h-33.5M2739.5 1023.3h32.5M3208.4 1023.3h-33.5M2739.5 847.6h32.5M3208.4 847.6h-33.5M2739.5 671.8h32.5M3208.4 671.8h-33.5M2739.5 496.1h32.5M3208.4 496.1h-33.5M2739.5 320.3h32.5M3208.4 320.3h-33.5M2739.5 144.6h32.5M3208.4 144.6h-33.5" stroke="#000" stroke-width="2.4" fill="none"/>
<path d="M2832.3 1551.3v-17.3M2832.3 145.3v16.5M2926.1 1551.3v-17.3M2926.1 145.3v16.5M3019.8 1551.3v-17.3M3019.8 145.3v16.5M3113.6 1551.3v-17.3M3113.6 145.3v16.5M2739.5 1515.4h16.5M3208.4 1515.4h-17.4M2739.5 1480.3h16.5M3208.4 1480.3h-17.4M2739.5 1445.1h16.5M3208.4 1445.1h-17.4M2739.5 1410h16.5M3208.4 1410h-17.4M2739.5 1339.7h16.5M3208.4 1339.7h-17.4M2739.5 1304.5h16.5M3208.4 1304.5h-17.4M2739.5 1269.4h16.5M3208.4 1269.4h-17.4M2739.5 1234.2h16.5M3208.4 1234.2h-17.4M2739.5 1164h16.5M3208.4 1164h-17.4M2739.5 1128.8h16.5M3208.4 1128.8h-17.4M2739.5 1093.6h16.5M3208.4 1093.6h-17.4M2739.5 1058.5h16.5M3208.4 1058.5h-17.4M2739.5 988.2h16.5M3208.4 988.2h-17.4M2739.5 953h16.5M3208.4 953h-17.4M2739.5 917.9h16.5M3208.4 917.9h-17.4M2739.5 882.7h16.5M3208.4 882.7h-17.4M2739.5 812.4h16.5M3208.4 812.4h-17.4M2739.5 777.3h16.5M3208.4 777.3h-17.4M2739.5 742.1h16.5M3208.4 742.1h-17.4M2739.5 707h16.5M3208.4 707h-17.4M2739.5 636.7h16.5M3208.4 636.7h-17.4M2739.5 601.5h16.5M3208.4 601.5h-17.4M2739.5 566.4h16.5M3208.4 566.4h-17.4M2739.5 531.2h16.5M3208.4 531.2h-17.4M2739.5 460.9h16.5M3208.4 460.9h-17.4M2739.5 425.8h16.5M3208.4 425.8h-17.4M2739.5 390.6h16.5M3208.4 390.6h-17.4M2739.5 355.5h16.5M3208.4 355.5h-17.4M2739.5 285.2h16.5M3208.4 285.2h-17.4M2739.5 250.1h16.5M3208.4 250.1h-17.4M2739.5 214.9h16.5M3208.4 214.9h-17.4M2739.5 179.8h16.5M3208.4 179.8h-17.4" stroke="#000" stroke-width="2.2" fill="none"/>
<rect x="2739.5" y="145.3" width="468.9" height="1406" fill="none" stroke="#000" stroke-width="3.33" stroke-linejoin="miter"/>
<text id="xt0" transform="translate(268.5 1627.4) scale(0.62 1)" text-anchor="middle" font-size="86.2" letter-spacing="2.6" x="1.3" filter="url(#bt)">0</text>
<text id="xt1000" transform="translate(738.1 1627.4) scale(0.62 1)" text-anchor="middle" font-size="86.2" letter-spacing="2.6" x="1.3" filter="url(#bt)">1000</text>
<text id="xt2000" transform="translate(1207.7 1627.4) scale(0.62 1)" text-anchor="middle" font-size="86.2" letter-spacing="2.6" x="1.3" filter="url(#bt)">2000</text>
<text id="xt3000" transform="translate(1677.3 1627.4) scale(0.62 1)" text-anchor="middle" font-size="86.2" letter-spacing="2.6" x="1.3" filter="url(#bt)">3000</text>
<text id="xt4000" transform="translate(2146.9 1627.4) scale(0.62 1)" text-anchor="middle" font-size="86.2" letter-spacing="2.6" x="1.3" filter="url(#bt)">4000</text>
<text id="xt5000" transform="translate(2616.5 1627.4) scale(0.62 1)" text-anchor="middle" font-size="86.2" letter-spacing="2.6" x="1.3" filter="url(#bt)">5000</text>
<text id="ht0" transform="translate(2739.5 1627.4) scale(0.62 1)" text-anchor="middle" font-size="86.2" letter-spacing="2.6" x="1.3" filter="url(#bt)">0</text>
<text id="ht500" transform="translate(3208.4 1627.4) scale(0.62 1)" text-anchor="middle" font-size="86.2" letter-spacing="2.6" x="1.3" filter="url(#bt)">500</text>
<text id="yt0" transform="translate(249.8 1572.8) scale(0.62 1)" text-anchor="end" font-size="86.2" letter-spacing="2.6" x="2.6" filter="url(#bt)">0</text>
<text id="yt25" transform="translate(249.8 1397) scale(0.62 1)" text-anchor="end" font-size="86.2" letter-spacing="2.6" x="2.6" filter="url(#bt)">25</text>
<text id="yt50" transform="translate(249.8 1221.3) scale(0.62 1)" text-anchor="end" font-size="86.2" letter-spacing="2.6" x="2.6" filter="url(#bt)">50</text>
<text id="yt75" transform="translate(249.8 1045.5) scale(0.62 1)" text-anchor="end" font-size="86.2" letter-spacing="2.6" x="2.6" filter="url(#bt)">75</text>
<text id="yt100" transform="translate(249.8 869.8) scale(0.62 1)" text-anchor="end" font-size="86.2" letter-spacing="2.6" x="2.6" filter="url(#bt)">100</text>
<text id="yt125" transform="translate(249.8 694) scale(0.62 1)" text-anchor="end" font-size="86.2" letter-spacing="2.6" x="2.6" filter="url(#bt)">125</text>
<text id="yt150" transform="translate(249.8 518.3) scale(0.62 1)" text-anchor="end" font-size="86.2" letter-spacing="2.6" x="2.6" filter="url(#bt)">150</text>
<text id="yt175" transform="translate(249.8 342.5) scale(0.62 1)" text-anchor="end" font-size="86.2" letter-spacing="2.6" x="2.6" filter="url(#bt)">175</text>
<text id="yt200" transform="translate(249.8 166.8) scale(0.62 1)" text-anchor="end" font-size="86.2" letter-spacing="2.6" x="2.6" filter="url(#bt)">200</text>
<text id="title" transform="translate(1442 120) scale(0.5604 1)" text-anchor="middle" font-size="107.6" letter-spacing="2.6" x="1.3" filter="url(#bl)">Tilt</text>
<text id="xl" transform="translate(1440.5 1734.9) scale(0.5906 1)" text-anchor="middle" font-size="107.6" letter-spacing="2.6" x="1.3" filter="url(#bl)">Time (ns)</text>
<text id="cl" transform="translate(2974.8 1734.9) scale(0.5634 1)" text-anchor="middle" font-size="107.6" letter-spacing="2.6" x="1.3" filter="url(#bl)">Counts</text>
<text id="yl" transform="translate(118.8 850.8) rotate(-90) scale(0.5976 1)" text-anchor="middle" font-size="107.6" letter-spacing="2.6" x="1.3" filter="url(#bl)">Angle (degrees)</text>
</svg>
</body></html>
